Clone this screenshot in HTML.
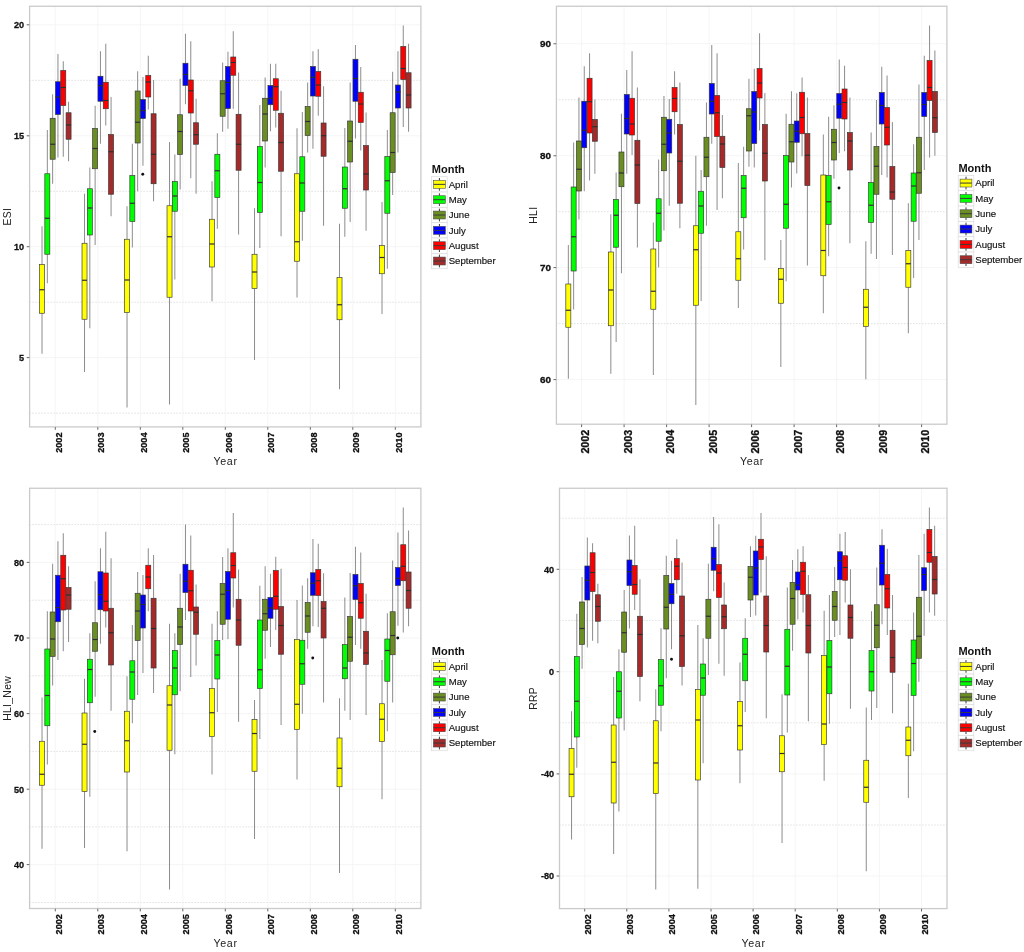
<!DOCTYPE html>
<html lang="en"><head><meta charset="utf-8"><title>Monthly boxplots by year</title>
<style>html,body{margin:0;padding:0;background:#fff}body{width:1024px;height:952px;overflow:hidden}svg{display:block}</style></head>
<body>
<svg width="1024" height="952" viewBox="0 0 1024 952" font-family='"Liberation Sans", Arial, Helvetica, sans-serif'>
<rect width="1024" height="952" fill="#fff"/>
<g>
<line x1="29.6" x2="420.9" y1="24.8" y2="24.8" stroke="#f3f3f3" stroke-width="0.8"/>
<line x1="29.6" x2="420.9" y1="135.8" y2="135.8" stroke="#f3f3f3" stroke-width="0.8"/>
<line x1="29.6" x2="420.9" y1="246.7" y2="246.7" stroke="#f3f3f3" stroke-width="0.8"/>
<line x1="29.6" x2="420.9" y1="357.6" y2="357.6" stroke="#f3f3f3" stroke-width="0.8"/>
<line x1="29.6" x2="420.9" y1="80.3" y2="80.3" stroke="#c6c6c6" stroke-width="0.9" stroke-dasharray="0.9 2.1"/>
<line x1="29.6" x2="420.9" y1="191.3" y2="191.3" stroke="#c6c6c6" stroke-width="0.9" stroke-dasharray="0.9 2.1"/>
<line x1="29.6" x2="420.9" y1="302.2" y2="302.2" stroke="#c6c6c6" stroke-width="0.9" stroke-dasharray="0.9 2.1"/>
<line x1="29.6" x2="420.9" y1="413.2" y2="413.2" stroke="#c6c6c6" stroke-width="0.9" stroke-dasharray="0.9 2.1"/>
<line x1="55.3" x2="55.3" y1="6.25" y2="426.9" stroke="#f3f3f3" stroke-width="0.8"/>
<line x1="97.8" x2="97.8" y1="6.25" y2="426.9" stroke="#f3f3f3" stroke-width="0.8"/>
<line x1="140.3" x2="140.3" y1="6.25" y2="426.9" stroke="#f3f3f3" stroke-width="0.8"/>
<line x1="182.8" x2="182.8" y1="6.25" y2="426.9" stroke="#f3f3f3" stroke-width="0.8"/>
<line x1="225.3" x2="225.3" y1="6.25" y2="426.9" stroke="#f3f3f3" stroke-width="0.8"/>
<line x1="267.8" x2="267.8" y1="6.25" y2="426.9" stroke="#f3f3f3" stroke-width="0.8"/>
<line x1="310.3" x2="310.3" y1="6.25" y2="426.9" stroke="#f3f3f3" stroke-width="0.8"/>
<line x1="352.8" x2="352.8" y1="6.25" y2="426.9" stroke="#f3f3f3" stroke-width="0.8"/>
<line x1="395.3" x2="395.3" y1="6.25" y2="426.9" stroke="#f3f3f3" stroke-width="0.8"/>
<path d="M42.02 226.25V264.5M42.02 313.25V353.75" stroke="#6e6e6e" stroke-width="0.8" fill="none"/>
<rect x="39.52" y="264.5" width="5.01" height="48.75" fill="#FFFF00" stroke="#333" stroke-width="0.65"/>
<line x1="39.52" x2="44.53" y1="289.75" y2="289.75" stroke="#2e2e2e" stroke-width="1.2"/>
<path d="M47.33 130V173.75M47.33 254.25V283.25" stroke="#6e6e6e" stroke-width="0.8" fill="none"/>
<rect x="44.83" y="173.75" width="5.01" height="80.5" fill="#00FF00" stroke="#333" stroke-width="0.65"/>
<line x1="44.83" x2="49.84" y1="218.25" y2="218.25" stroke="#2e2e2e" stroke-width="1.2"/>
<path d="M52.64 94.25V118.25M52.64 159.25V183.75" stroke="#6e6e6e" stroke-width="0.8" fill="none"/>
<rect x="50.14" y="118.25" width="5.01" height="41" fill="#6B8E23" stroke="#333" stroke-width="0.65"/>
<line x1="50.14" x2="55.15" y1="144.25" y2="144.25" stroke="#2e2e2e" stroke-width="1.2"/>
<path d="M57.95 54V81.75M57.95 114.5V157.5" stroke="#6e6e6e" stroke-width="0.8" fill="none"/>
<rect x="55.45" y="81.75" width="5.01" height="32.75" fill="#0000FF" stroke="#333" stroke-width="0.65"/>
<line x1="55.45" x2="60.46" y1="97" y2="97" stroke="#2e2e2e" stroke-width="1.2"/>
<path d="M63.27 61.25V70.5M63.27 105.5V156.75" stroke="#6e6e6e" stroke-width="0.8" fill="none"/>
<rect x="60.76" y="70.5" width="5.01" height="35" fill="#FF0000" stroke="#333" stroke-width="0.65"/>
<line x1="60.76" x2="65.77" y1="87.5" y2="87.5" stroke="#2e2e2e" stroke-width="1.2"/>
<path d="M68.57 101.75V112.75M68.57 139.25V161.25" stroke="#6e6e6e" stroke-width="0.8" fill="none"/>
<rect x="66.07" y="112.75" width="5.01" height="26.5" fill="#A52A2A" stroke="#333" stroke-width="0.65"/>
<line x1="66.07" x2="71.08" y1="125" y2="125" stroke="#2e2e2e" stroke-width="1.2"/>
<path d="M84.53 193.75V243.25M84.53 319.25V372" stroke="#6e6e6e" stroke-width="0.8" fill="none"/>
<rect x="82.02" y="243.25" width="5.01" height="76" fill="#FFFF00" stroke="#333" stroke-width="0.65"/>
<line x1="82.02" x2="87.03" y1="280.25" y2="280.25" stroke="#2e2e2e" stroke-width="1.2"/>
<path d="M89.83 167.5V188.75M89.83 235V328.25" stroke="#6e6e6e" stroke-width="0.8" fill="none"/>
<rect x="87.33" y="188.75" width="5.01" height="46.25" fill="#00FF00" stroke="#333" stroke-width="0.65"/>
<line x1="87.33" x2="92.34" y1="208" y2="208" stroke="#2e2e2e" stroke-width="1.2"/>
<path d="M95.14 105.75V128.5M95.14 168.75V245" stroke="#6e6e6e" stroke-width="0.8" fill="none"/>
<rect x="92.64" y="128.5" width="5.01" height="40.25" fill="#6B8E23" stroke="#333" stroke-width="0.65"/>
<line x1="92.64" x2="97.65" y1="148.5" y2="148.5" stroke="#2e2e2e" stroke-width="1.2"/>
<path d="M100.45 51.25V76.25M100.45 101.25V143.75" stroke="#6e6e6e" stroke-width="0.8" fill="none"/>
<rect x="97.95" y="76.25" width="5.01" height="25" fill="#0000FF" stroke="#333" stroke-width="0.65"/>
<line x1="97.95" x2="102.96" y1="85.75" y2="85.75" stroke="#2e2e2e" stroke-width="1.2"/>
<path d="M105.77 43.75V82.25M105.77 108.75V125.5" stroke="#6e6e6e" stroke-width="0.8" fill="none"/>
<rect x="103.26" y="82.25" width="5.01" height="26.5" fill="#FF0000" stroke="#333" stroke-width="0.65"/>
<line x1="103.26" x2="108.27" y1="100.5" y2="100.5" stroke="#2e2e2e" stroke-width="1.2"/>
<path d="M111.07 97V134.5M111.07 194.25V216.25" stroke="#6e6e6e" stroke-width="0.8" fill="none"/>
<rect x="108.57" y="134.5" width="5.01" height="59.75" fill="#A52A2A" stroke="#333" stroke-width="0.65"/>
<line x1="108.57" x2="113.58" y1="151.75" y2="151.75" stroke="#2e2e2e" stroke-width="1.2"/>
<path d="M127.03 206.25V239.25M127.03 312.5V407.5" stroke="#6e6e6e" stroke-width="0.8" fill="none"/>
<rect x="124.52" y="239.25" width="5.01" height="73.25" fill="#FFFF00" stroke="#333" stroke-width="0.65"/>
<line x1="124.52" x2="129.53" y1="280" y2="280" stroke="#2e2e2e" stroke-width="1.2"/>
<path d="M132.34 143.75V175.5M132.34 221.5V247.5" stroke="#6e6e6e" stroke-width="0.8" fill="none"/>
<rect x="129.83" y="175.5" width="5.01" height="46" fill="#00FF00" stroke="#333" stroke-width="0.65"/>
<line x1="129.83" x2="134.84" y1="203.25" y2="203.25" stroke="#2e2e2e" stroke-width="1.2"/>
<path d="M137.65 71.25V91M137.65 143V191.25" stroke="#6e6e6e" stroke-width="0.8" fill="none"/>
<rect x="135.14" y="91" width="5.01" height="52" fill="#6B8E23" stroke="#333" stroke-width="0.65"/>
<line x1="135.14" x2="140.15" y1="122.25" y2="122.25" stroke="#2e2e2e" stroke-width="1.2"/>
<path d="M142.96 77V99.5M142.96 118.5V165.75" stroke="#6e6e6e" stroke-width="0.8" fill="none"/>
<rect x="140.45" y="99.5" width="5.01" height="19" fill="#0000FF" stroke="#333" stroke-width="0.65"/>
<line x1="140.45" x2="145.46" y1="110.5" y2="110.5" stroke="#2e2e2e" stroke-width="1.2"/>
<path d="M148.27 55.75V75.5M148.27 97V109.5" stroke="#6e6e6e" stroke-width="0.8" fill="none"/>
<rect x="145.76" y="75.5" width="5.01" height="21.5" fill="#FF0000" stroke="#333" stroke-width="0.65"/>
<line x1="145.76" x2="150.77" y1="82" y2="82" stroke="#2e2e2e" stroke-width="1.2"/>
<path d="M153.58 80V113.75M153.58 183.75V201.25" stroke="#6e6e6e" stroke-width="0.8" fill="none"/>
<rect x="151.07" y="113.75" width="5.01" height="70" fill="#A52A2A" stroke="#333" stroke-width="0.65"/>
<line x1="151.07" x2="156.08" y1="154.25" y2="154.25" stroke="#2e2e2e" stroke-width="1.2"/>
<path d="M169.53 142V205.75M169.53 297.25V404.5" stroke="#6e6e6e" stroke-width="0.8" fill="none"/>
<rect x="167.02" y="205.75" width="5.01" height="91.5" fill="#FFFF00" stroke="#333" stroke-width="0.65"/>
<line x1="167.02" x2="172.03" y1="236.75" y2="236.75" stroke="#2e2e2e" stroke-width="1.2"/>
<path d="M174.84 154.5V181.5M174.84 211.25V279.5" stroke="#6e6e6e" stroke-width="0.8" fill="none"/>
<rect x="172.33" y="181.5" width="5.01" height="29.75" fill="#00FF00" stroke="#333" stroke-width="0.65"/>
<line x1="172.33" x2="177.34" y1="196" y2="196" stroke="#2e2e2e" stroke-width="1.2"/>
<path d="M180.15 78.75V114.75M180.15 154.5V189.5" stroke="#6e6e6e" stroke-width="0.8" fill="none"/>
<rect x="177.64" y="114.75" width="5.01" height="39.75" fill="#6B8E23" stroke="#333" stroke-width="0.65"/>
<line x1="177.64" x2="182.65" y1="131.5" y2="131.5" stroke="#2e2e2e" stroke-width="1.2"/>
<path d="M185.46 33.75V63.25M185.46 85.5V104.25" stroke="#6e6e6e" stroke-width="0.8" fill="none"/>
<rect x="182.95" y="63.25" width="5.01" height="22.25" fill="#0000FF" stroke="#333" stroke-width="0.65"/>
<line x1="182.95" x2="187.96" y1="74.5" y2="74.5" stroke="#2e2e2e" stroke-width="1.2"/>
<path d="M190.77 41.25V80M190.77 113V178.25" stroke="#6e6e6e" stroke-width="0.8" fill="none"/>
<rect x="188.26" y="80" width="5.01" height="33" fill="#FF0000" stroke="#333" stroke-width="0.65"/>
<line x1="188.26" x2="193.27" y1="90.75" y2="90.75" stroke="#2e2e2e" stroke-width="1.2"/>
<path d="M196.08 98.75V122.75M196.08 144.25V193.75" stroke="#6e6e6e" stroke-width="0.8" fill="none"/>
<rect x="193.57" y="122.75" width="5.01" height="21.5" fill="#A52A2A" stroke="#333" stroke-width="0.65"/>
<line x1="193.57" x2="198.58" y1="134.75" y2="134.75" stroke="#2e2e2e" stroke-width="1.2"/>
<path d="M212.03 181.25V219.25M212.03 267V301.25" stroke="#6e6e6e" stroke-width="0.8" fill="none"/>
<rect x="209.52" y="219.25" width="5.01" height="47.75" fill="#FFFF00" stroke="#333" stroke-width="0.65"/>
<line x1="209.52" x2="214.53" y1="244" y2="244" stroke="#2e2e2e" stroke-width="1.2"/>
<path d="M217.34 133.25V154.25M217.34 197.5V228.75" stroke="#6e6e6e" stroke-width="0.8" fill="none"/>
<rect x="214.83" y="154.25" width="5.01" height="43.25" fill="#00FF00" stroke="#333" stroke-width="0.65"/>
<line x1="214.83" x2="219.84" y1="170.75" y2="170.75" stroke="#2e2e2e" stroke-width="1.2"/>
<path d="M222.65 62.5V80.75M222.65 116.25V131.75" stroke="#6e6e6e" stroke-width="0.8" fill="none"/>
<rect x="220.14" y="80.75" width="5.01" height="35.5" fill="#6B8E23" stroke="#333" stroke-width="0.65"/>
<line x1="220.14" x2="225.15" y1="93.75" y2="93.75" stroke="#2e2e2e" stroke-width="1.2"/>
<path d="M227.96 51.75V66.5M227.96 108.5V128.75" stroke="#6e6e6e" stroke-width="0.8" fill="none"/>
<rect x="225.45" y="66.5" width="5.01" height="42" fill="#0000FF" stroke="#333" stroke-width="0.65"/>
<line x1="225.45" x2="230.46" y1="82.5" y2="82.5" stroke="#2e2e2e" stroke-width="1.2"/>
<path d="M233.27 31.25V57M233.27 75.25V108.75" stroke="#6e6e6e" stroke-width="0.8" fill="none"/>
<rect x="230.76" y="57" width="5.01" height="18.25" fill="#FF0000" stroke="#333" stroke-width="0.65"/>
<line x1="230.76" x2="235.77" y1="62.5" y2="62.5" stroke="#2e2e2e" stroke-width="1.2"/>
<path d="M238.58 72.5V114.25M238.58 170.25V234.5" stroke="#6e6e6e" stroke-width="0.8" fill="none"/>
<rect x="236.07" y="114.25" width="5.01" height="56" fill="#A52A2A" stroke="#333" stroke-width="0.65"/>
<line x1="236.07" x2="241.08" y1="144.25" y2="144.25" stroke="#2e2e2e" stroke-width="1.2"/>
<path d="M254.53 208.25V254.25M254.53 288.5V360" stroke="#6e6e6e" stroke-width="0.8" fill="none"/>
<rect x="252.02" y="254.25" width="5.01" height="34.25" fill="#FFFF00" stroke="#333" stroke-width="0.65"/>
<line x1="252.02" x2="257.03" y1="272" y2="272" stroke="#2e2e2e" stroke-width="1.2"/>
<path d="M259.84 105V146.5M259.84 212.5V248" stroke="#6e6e6e" stroke-width="0.8" fill="none"/>
<rect x="257.33" y="146.5" width="5.01" height="66" fill="#00FF00" stroke="#333" stroke-width="0.65"/>
<line x1="257.33" x2="262.34" y1="182.5" y2="182.5" stroke="#2e2e2e" stroke-width="1.2"/>
<path d="M265.15 77.5V98.25M265.15 141V167.5" stroke="#6e6e6e" stroke-width="0.8" fill="none"/>
<rect x="262.64" y="98.25" width="5.01" height="42.75" fill="#6B8E23" stroke="#333" stroke-width="0.65"/>
<line x1="262.64" x2="267.65" y1="114" y2="114" stroke="#2e2e2e" stroke-width="1.2"/>
<path d="M270.45 63.75V85.5M270.45 104.75V131.25" stroke="#6e6e6e" stroke-width="0.8" fill="none"/>
<rect x="267.95" y="85.5" width="5.01" height="19.25" fill="#0000FF" stroke="#333" stroke-width="0.65"/>
<line x1="267.95" x2="272.96" y1="98.25" y2="98.25" stroke="#2e2e2e" stroke-width="1.2"/>
<path d="M275.76 63.75V78.75M275.76 110.25V127.5" stroke="#6e6e6e" stroke-width="0.8" fill="none"/>
<rect x="273.26" y="78.75" width="5.01" height="31.5" fill="#FF0000" stroke="#333" stroke-width="0.65"/>
<line x1="273.26" x2="278.27" y1="86.75" y2="86.75" stroke="#2e2e2e" stroke-width="1.2"/>
<path d="M281.07 90.75V113.25M281.07 171.25V236.25" stroke="#6e6e6e" stroke-width="0.8" fill="none"/>
<rect x="278.57" y="113.25" width="5.01" height="58" fill="#A52A2A" stroke="#333" stroke-width="0.65"/>
<line x1="278.57" x2="283.58" y1="142.5" y2="142.5" stroke="#2e2e2e" stroke-width="1.2"/>
<path d="M297.03 128.25V173.75M297.03 261.25V297.5" stroke="#6e6e6e" stroke-width="0.8" fill="none"/>
<rect x="294.52" y="173.75" width="5.01" height="87.5" fill="#FFFF00" stroke="#333" stroke-width="0.65"/>
<line x1="294.52" x2="299.53" y1="241.75" y2="241.75" stroke="#2e2e2e" stroke-width="1.2"/>
<path d="M302.34 112V156.75M302.34 211.25V240.75" stroke="#6e6e6e" stroke-width="0.8" fill="none"/>
<rect x="299.83" y="156.75" width="5.01" height="54.5" fill="#00FF00" stroke="#333" stroke-width="0.65"/>
<line x1="299.83" x2="304.84" y1="183" y2="183" stroke="#2e2e2e" stroke-width="1.2"/>
<path d="M307.65 82.5V106.5M307.65 135.5V152.5" stroke="#6e6e6e" stroke-width="0.8" fill="none"/>
<rect x="305.14" y="106.5" width="5.01" height="29" fill="#6B8E23" stroke="#333" stroke-width="0.65"/>
<line x1="305.14" x2="310.15" y1="121.5" y2="121.5" stroke="#2e2e2e" stroke-width="1.2"/>
<path d="M312.95 51.25V66.5M312.95 96V148.75" stroke="#6e6e6e" stroke-width="0.8" fill="none"/>
<rect x="310.45" y="66.5" width="5.01" height="29.5" fill="#0000FF" stroke="#333" stroke-width="0.65"/>
<line x1="310.45" x2="315.46" y1="77.25" y2="77.25" stroke="#2e2e2e" stroke-width="1.2"/>
<path d="M318.26 49.25V71.5M318.26 96.25V115.75" stroke="#6e6e6e" stroke-width="0.8" fill="none"/>
<rect x="315.76" y="71.5" width="5.01" height="24.75" fill="#FF0000" stroke="#333" stroke-width="0.65"/>
<line x1="315.76" x2="320.77" y1="85" y2="85" stroke="#2e2e2e" stroke-width="1.2"/>
<path d="M323.57 86.25V123M323.57 156.25V225.75" stroke="#6e6e6e" stroke-width="0.8" fill="none"/>
<rect x="321.07" y="123" width="5.01" height="33.25" fill="#A52A2A" stroke="#333" stroke-width="0.65"/>
<line x1="321.07" x2="326.08" y1="135.75" y2="135.75" stroke="#2e2e2e" stroke-width="1.2"/>
<path d="M339.53 223.75V277.5M339.53 319.75V389.25" stroke="#6e6e6e" stroke-width="0.8" fill="none"/>
<rect x="337.02" y="277.5" width="5.01" height="42.25" fill="#FFFF00" stroke="#333" stroke-width="0.65"/>
<line x1="337.02" x2="342.03" y1="304.75" y2="304.75" stroke="#2e2e2e" stroke-width="1.2"/>
<path d="M344.84 128V167M344.84 208.25V236.75" stroke="#6e6e6e" stroke-width="0.8" fill="none"/>
<rect x="342.33" y="167" width="5.01" height="41.25" fill="#00FF00" stroke="#333" stroke-width="0.65"/>
<line x1="342.33" x2="347.34" y1="188.75" y2="188.75" stroke="#2e2e2e" stroke-width="1.2"/>
<path d="M350.15 82.5V121M350.15 162V222" stroke="#6e6e6e" stroke-width="0.8" fill="none"/>
<rect x="347.64" y="121" width="5.01" height="41" fill="#6B8E23" stroke="#333" stroke-width="0.65"/>
<line x1="347.64" x2="352.65" y1="141.25" y2="141.25" stroke="#2e2e2e" stroke-width="1.2"/>
<path d="M355.45 45V59.25M355.45 101.25V138.5" stroke="#6e6e6e" stroke-width="0.8" fill="none"/>
<rect x="352.95" y="59.25" width="5.01" height="42" fill="#0000FF" stroke="#333" stroke-width="0.65"/>
<line x1="352.95" x2="357.96" y1="78.5" y2="78.5" stroke="#2e2e2e" stroke-width="1.2"/>
<path d="M360.76 67V92.25M360.76 122.5V150.5" stroke="#6e6e6e" stroke-width="0.8" fill="none"/>
<rect x="358.26" y="92.25" width="5.01" height="30.25" fill="#FF0000" stroke="#333" stroke-width="0.65"/>
<line x1="358.26" x2="363.27" y1="104" y2="104" stroke="#2e2e2e" stroke-width="1.2"/>
<path d="M366.07 112.5V145.5M366.07 190V230.75" stroke="#6e6e6e" stroke-width="0.8" fill="none"/>
<rect x="363.57" y="145.5" width="5.01" height="44.5" fill="#A52A2A" stroke="#333" stroke-width="0.65"/>
<line x1="363.57" x2="368.58" y1="174" y2="174" stroke="#2e2e2e" stroke-width="1.2"/>
<path d="M382.03 202V245.5M382.03 273.75V314" stroke="#6e6e6e" stroke-width="0.8" fill="none"/>
<rect x="379.52" y="245.5" width="5.01" height="28.25" fill="#FFFF00" stroke="#333" stroke-width="0.65"/>
<line x1="379.52" x2="384.53" y1="257.5" y2="257.5" stroke="#2e2e2e" stroke-width="1.2"/>
<path d="M387.34 130V156.5M387.34 213.25V268.75" stroke="#6e6e6e" stroke-width="0.8" fill="none"/>
<rect x="384.83" y="156.5" width="5.01" height="56.75" fill="#00FF00" stroke="#333" stroke-width="0.65"/>
<line x1="384.83" x2="389.84" y1="180.75" y2="180.75" stroke="#2e2e2e" stroke-width="1.2"/>
<path d="M392.65 71.75V112.75M392.65 172.5V195" stroke="#6e6e6e" stroke-width="0.8" fill="none"/>
<rect x="390.14" y="112.75" width="5.01" height="59.75" fill="#6B8E23" stroke="#333" stroke-width="0.65"/>
<line x1="390.14" x2="395.15" y1="152.5" y2="152.5" stroke="#2e2e2e" stroke-width="1.2"/>
<path d="M397.95 51.25V85M397.95 108V152.5" stroke="#6e6e6e" stroke-width="0.8" fill="none"/>
<rect x="395.45" y="85" width="5.01" height="23" fill="#0000FF" stroke="#333" stroke-width="0.65"/>
<line x1="395.45" x2="400.46" y1="92" y2="92" stroke="#2e2e2e" stroke-width="1.2"/>
<path d="M403.26 25.5V46.5M403.26 79.5V127" stroke="#6e6e6e" stroke-width="0.8" fill="none"/>
<rect x="400.76" y="46.5" width="5.01" height="33" fill="#FF0000" stroke="#333" stroke-width="0.65"/>
<line x1="400.76" x2="405.77" y1="68.5" y2="68.5" stroke="#2e2e2e" stroke-width="1.2"/>
<path d="M408.57 43.75V72.75M408.57 108V131.75" stroke="#6e6e6e" stroke-width="0.8" fill="none"/>
<rect x="406.07" y="72.75" width="5.01" height="35.25" fill="#A52A2A" stroke="#333" stroke-width="0.65"/>
<line x1="406.07" x2="411.08" y1="95" y2="95" stroke="#2e2e2e" stroke-width="1.2"/>
<circle cx="142.75" cy="174.25" r="1.45" fill="#111"/>
<rect x="29.6" y="6.25" width="391.3" height="420.65" fill="none" stroke="#cacaca" stroke-width="1.3"/>
<line x1="26.7" x2="29.3" y1="24.8" y2="24.8" stroke="#555" stroke-width="0.9"/>
<text transform="translate(24.2 28.26) scale(0.95 1)" font-size="9.6" font-weight="bold" text-anchor="end" fill="#111" stroke="#111" stroke-width="0.3">20</text>
<line x1="26.7" x2="29.3" y1="135.8" y2="135.8" stroke="#555" stroke-width="0.9"/>
<text transform="translate(24.2 139.26) scale(0.95 1)" font-size="9.6" font-weight="bold" text-anchor="end" fill="#111" stroke="#111" stroke-width="0.3">15</text>
<line x1="26.7" x2="29.3" y1="246.7" y2="246.7" stroke="#555" stroke-width="0.9"/>
<text transform="translate(24.2 250.16) scale(0.95 1)" font-size="9.6" font-weight="bold" text-anchor="end" fill="#111" stroke="#111" stroke-width="0.3">10</text>
<line x1="26.7" x2="29.3" y1="357.6" y2="357.6" stroke="#555" stroke-width="0.9"/>
<text transform="translate(24.2 361.06) scale(0.95 1)" font-size="9.6" font-weight="bold" text-anchor="end" fill="#111" stroke="#111" stroke-width="0.3">5</text>
<line x1="55.3" x2="55.3" y1="427.2" y2="429.8" stroke="#555" stroke-width="0.9"/>
<text transform="translate(61.5 432.5) rotate(-90) scale(0.95 1)" font-size="9.6" font-weight="bold" text-anchor="end" fill="#111" stroke="#111" stroke-width="0.3">2002</text>
<line x1="97.8" x2="97.8" y1="427.2" y2="429.8" stroke="#555" stroke-width="0.9"/>
<text transform="translate(104 432.5) rotate(-90) scale(0.95 1)" font-size="9.6" font-weight="bold" text-anchor="end" fill="#111" stroke="#111" stroke-width="0.3">2003</text>
<line x1="140.3" x2="140.3" y1="427.2" y2="429.8" stroke="#555" stroke-width="0.9"/>
<text transform="translate(146.5 432.5) rotate(-90) scale(0.95 1)" font-size="9.6" font-weight="bold" text-anchor="end" fill="#111" stroke="#111" stroke-width="0.3">2004</text>
<line x1="182.8" x2="182.8" y1="427.2" y2="429.8" stroke="#555" stroke-width="0.9"/>
<text transform="translate(189 432.5) rotate(-90) scale(0.95 1)" font-size="9.6" font-weight="bold" text-anchor="end" fill="#111" stroke="#111" stroke-width="0.3">2005</text>
<line x1="225.3" x2="225.3" y1="427.2" y2="429.8" stroke="#555" stroke-width="0.9"/>
<text transform="translate(231.5 432.5) rotate(-90) scale(0.95 1)" font-size="9.6" font-weight="bold" text-anchor="end" fill="#111" stroke="#111" stroke-width="0.3">2006</text>
<line x1="267.8" x2="267.8" y1="427.2" y2="429.8" stroke="#555" stroke-width="0.9"/>
<text transform="translate(274 432.5) rotate(-90) scale(0.95 1)" font-size="9.6" font-weight="bold" text-anchor="end" fill="#111" stroke="#111" stroke-width="0.3">2007</text>
<line x1="310.3" x2="310.3" y1="427.2" y2="429.8" stroke="#555" stroke-width="0.9"/>
<text transform="translate(316.5 432.5) rotate(-90) scale(0.95 1)" font-size="9.6" font-weight="bold" text-anchor="end" fill="#111" stroke="#111" stroke-width="0.3">2008</text>
<line x1="352.8" x2="352.8" y1="427.2" y2="429.8" stroke="#555" stroke-width="0.9"/>
<text transform="translate(359 432.5) rotate(-90) scale(0.95 1)" font-size="9.6" font-weight="bold" text-anchor="end" fill="#111" stroke="#111" stroke-width="0.3">2009</text>
<line x1="395.3" x2="395.3" y1="427.2" y2="429.8" stroke="#555" stroke-width="0.9"/>
<text transform="translate(401.5 432.5) rotate(-90) scale(0.95 1)" font-size="9.6" font-weight="bold" text-anchor="end" fill="#111" stroke="#111" stroke-width="0.3">2010</text>
<text x="225.55" y="464.6" font-size="10.7" text-anchor="middle" fill="#222" letter-spacing="0.6">Year</text>
<text transform="translate(11.3 216.57) rotate(-90)" font-size="10.4" text-anchor="middle" fill="#222" letter-spacing="0.3">ESI</text>
<text x="431.8" y="172.6" font-size="11" font-weight="bold" fill="#111">Month</text>
<rect x="431.6" y="176.7" width="15.6" height="15.33" fill="#fff" stroke="#dcdcdc" stroke-width="0.7"/>
<path d="M439.4 178V180.37M439.4 188.37V190.7" stroke="#3a3a3a" stroke-width="1"/>
<rect x="433.5" y="180.42" width="11.8" height="7.9" fill="#FFFF00" stroke="#444" stroke-width="0.55"/>
<line x1="433.5" x2="445.3" y1="184.37" y2="184.37" stroke="#3a3a3a" stroke-width="1"/>
<text x="448.7" y="187.57" font-size="9.6" fill="#111" stroke="#111" stroke-width="0.15">April</text>
<rect x="431.6" y="192.03" width="15.6" height="15.33" fill="#fff" stroke="#dcdcdc" stroke-width="0.7"/>
<path d="M439.4 193.33V195.7M439.4 203.7V206.03" stroke="#3a3a3a" stroke-width="1"/>
<rect x="433.5" y="195.75" width="11.8" height="7.9" fill="#00FF00" stroke="#444" stroke-width="0.55"/>
<line x1="433.5" x2="445.3" y1="199.7" y2="199.7" stroke="#3a3a3a" stroke-width="1"/>
<text x="448.7" y="202.9" font-size="9.6" fill="#111" stroke="#111" stroke-width="0.15">May</text>
<rect x="431.6" y="207.36" width="15.6" height="15.33" fill="#fff" stroke="#dcdcdc" stroke-width="0.7"/>
<path d="M439.4 208.66V211.03M439.4 219.03V221.36" stroke="#3a3a3a" stroke-width="1"/>
<rect x="433.5" y="211.08" width="11.8" height="7.9" fill="#6B8E23" stroke="#444" stroke-width="0.55"/>
<line x1="433.5" x2="445.3" y1="215.03" y2="215.03" stroke="#3a3a3a" stroke-width="1"/>
<text x="448.7" y="218.23" font-size="9.6" fill="#111" stroke="#111" stroke-width="0.15">June</text>
<rect x="431.6" y="222.69" width="15.6" height="15.33" fill="#fff" stroke="#dcdcdc" stroke-width="0.7"/>
<path d="M439.4 223.99V226.36M439.4 234.36V236.69" stroke="#3a3a3a" stroke-width="1"/>
<rect x="433.5" y="226.41" width="11.8" height="7.9" fill="#0000FF" stroke="#444" stroke-width="0.55"/>
<line x1="433.5" x2="445.3" y1="230.36" y2="230.36" stroke="#3a3a3a" stroke-width="1"/>
<text x="448.7" y="233.56" font-size="9.6" fill="#111" stroke="#111" stroke-width="0.15">July</text>
<rect x="431.6" y="238.02" width="15.6" height="15.33" fill="#fff" stroke="#dcdcdc" stroke-width="0.7"/>
<path d="M439.4 239.32V241.69M439.4 249.69V252.02" stroke="#3a3a3a" stroke-width="1"/>
<rect x="433.5" y="241.74" width="11.8" height="7.9" fill="#FF0000" stroke="#444" stroke-width="0.55"/>
<line x1="433.5" x2="445.3" y1="245.69" y2="245.69" stroke="#3a3a3a" stroke-width="1"/>
<text x="448.7" y="248.89" font-size="9.6" fill="#111" stroke="#111" stroke-width="0.15">August</text>
<rect x="431.6" y="253.35" width="15.6" height="15.33" fill="#fff" stroke="#dcdcdc" stroke-width="0.7"/>
<path d="M439.4 254.65V257.02M439.4 265.02V267.35" stroke="#3a3a3a" stroke-width="1"/>
<rect x="433.5" y="257.07" width="11.8" height="7.9" fill="#A52A2A" stroke="#444" stroke-width="0.55"/>
<line x1="433.5" x2="445.3" y1="261.02" y2="261.02" stroke="#3a3a3a" stroke-width="1"/>
<text x="448.7" y="264.22" font-size="9.6" fill="#111" stroke="#111" stroke-width="0.15">September</text>
</g>
<g>
<line x1="556.4" x2="946.9" y1="43.75" y2="43.75" stroke="#f3f3f3" stroke-width="0.8"/>
<line x1="556.4" x2="946.9" y1="155.75" y2="155.75" stroke="#f3f3f3" stroke-width="0.8"/>
<line x1="556.4" x2="946.9" y1="267.6" y2="267.6" stroke="#f3f3f3" stroke-width="0.8"/>
<line x1="556.4" x2="946.9" y1="379.6" y2="379.6" stroke="#f3f3f3" stroke-width="0.8"/>
<line x1="556.4" x2="946.9" y1="99.75" y2="99.75" stroke="#c6c6c6" stroke-width="0.9" stroke-dasharray="0.9 2.1"/>
<line x1="556.4" x2="946.9" y1="211.7" y2="211.7" stroke="#c6c6c6" stroke-width="0.9" stroke-dasharray="0.9 2.1"/>
<line x1="556.4" x2="946.9" y1="323.6" y2="323.6" stroke="#c6c6c6" stroke-width="0.9" stroke-dasharray="0.9 2.1"/>
<line x1="581.6" x2="581.6" y1="6.25" y2="424.2" stroke="#f3f3f3" stroke-width="0.8"/>
<line x1="624.1" x2="624.1" y1="6.25" y2="424.2" stroke="#f3f3f3" stroke-width="0.8"/>
<line x1="666.6" x2="666.6" y1="6.25" y2="424.2" stroke="#f3f3f3" stroke-width="0.8"/>
<line x1="709.1" x2="709.1" y1="6.25" y2="424.2" stroke="#f3f3f3" stroke-width="0.8"/>
<line x1="751.6" x2="751.6" y1="6.25" y2="424.2" stroke="#f3f3f3" stroke-width="0.8"/>
<line x1="794.1" x2="794.1" y1="6.25" y2="424.2" stroke="#f3f3f3" stroke-width="0.8"/>
<line x1="836.6" x2="836.6" y1="6.25" y2="424.2" stroke="#f3f3f3" stroke-width="0.8"/>
<line x1="879.1" x2="879.1" y1="6.25" y2="424.2" stroke="#f3f3f3" stroke-width="0.8"/>
<line x1="921.6" x2="921.6" y1="6.25" y2="424.2" stroke="#f3f3f3" stroke-width="0.8"/>
<path d="M568.33 245V284M568.33 327.25V378.75" stroke="#6e6e6e" stroke-width="0.8" fill="none"/>
<rect x="565.82" y="284" width="5.01" height="43.25" fill="#FFFF00" stroke="#333" stroke-width="0.65"/>
<line x1="565.82" x2="570.83" y1="310.25" y2="310.25" stroke="#2e2e2e" stroke-width="1.2"/>
<path d="M573.63 142.5V187M573.63 271V309.5" stroke="#6e6e6e" stroke-width="0.8" fill="none"/>
<rect x="571.13" y="187" width="5.01" height="84" fill="#00FF00" stroke="#333" stroke-width="0.65"/>
<line x1="571.13" x2="576.14" y1="236.75" y2="236.75" stroke="#2e2e2e" stroke-width="1.2"/>
<path d="M578.95 97.5V141M578.95 191V219.5" stroke="#6e6e6e" stroke-width="0.8" fill="none"/>
<rect x="576.44" y="141" width="5.01" height="50" fill="#6B8E23" stroke="#333" stroke-width="0.65"/>
<line x1="576.44" x2="581.45" y1="169.25" y2="169.25" stroke="#2e2e2e" stroke-width="1.2"/>
<path d="M584.25 66.25V101.25M584.25 147.75V191.25" stroke="#6e6e6e" stroke-width="0.8" fill="none"/>
<rect x="581.75" y="101.25" width="5.01" height="46.5" fill="#0000FF" stroke="#333" stroke-width="0.65"/>
<line x1="581.75" x2="586.76" y1="130.25" y2="130.25" stroke="#2e2e2e" stroke-width="1.2"/>
<path d="M589.57 53.25V78.25M589.57 133V180.5" stroke="#6e6e6e" stroke-width="0.8" fill="none"/>
<rect x="587.06" y="78.25" width="5.01" height="54.75" fill="#FF0000" stroke="#333" stroke-width="0.65"/>
<line x1="587.06" x2="592.07" y1="101.75" y2="101.75" stroke="#2e2e2e" stroke-width="1.2"/>
<path d="M594.88 99.5V119.5M594.88 141.25V173.75" stroke="#6e6e6e" stroke-width="0.8" fill="none"/>
<rect x="592.37" y="119.5" width="5.01" height="21.75" fill="#A52A2A" stroke="#333" stroke-width="0.65"/>
<line x1="592.37" x2="597.38" y1="126.75" y2="126.75" stroke="#2e2e2e" stroke-width="1.2"/>
<path d="M610.83 214.25V252M610.83 325.75V373.75" stroke="#6e6e6e" stroke-width="0.8" fill="none"/>
<rect x="608.32" y="252" width="5.01" height="73.75" fill="#FFFF00" stroke="#333" stroke-width="0.65"/>
<line x1="608.32" x2="613.33" y1="290" y2="290" stroke="#2e2e2e" stroke-width="1.2"/>
<path d="M616.13 172.5V199.5M616.13 247.25V342" stroke="#6e6e6e" stroke-width="0.8" fill="none"/>
<rect x="613.63" y="199.5" width="5.01" height="47.75" fill="#00FF00" stroke="#333" stroke-width="0.65"/>
<line x1="613.63" x2="618.64" y1="215.25" y2="215.25" stroke="#2e2e2e" stroke-width="1.2"/>
<path d="M621.45 113.75V152M621.45 186.75V273.25" stroke="#6e6e6e" stroke-width="0.8" fill="none"/>
<rect x="618.94" y="152" width="5.01" height="34.75" fill="#6B8E23" stroke="#333" stroke-width="0.65"/>
<line x1="618.94" x2="623.95" y1="173" y2="173" stroke="#2e2e2e" stroke-width="1.2"/>
<path d="M626.75 70V94.5M626.75 134V173.75" stroke="#6e6e6e" stroke-width="0.8" fill="none"/>
<rect x="624.25" y="94.5" width="5.01" height="39.5" fill="#0000FF" stroke="#333" stroke-width="0.65"/>
<line x1="624.25" x2="629.26" y1="118.5" y2="118.5" stroke="#2e2e2e" stroke-width="1.2"/>
<path d="M632.07 51.25V98.25M632.07 135V155" stroke="#6e6e6e" stroke-width="0.8" fill="none"/>
<rect x="629.56" y="98.25" width="5.01" height="36.75" fill="#FF0000" stroke="#333" stroke-width="0.65"/>
<line x1="629.56" x2="634.57" y1="124" y2="124" stroke="#2e2e2e" stroke-width="1.2"/>
<path d="M637.38 87.5V140.25M637.38 203.5V247.5" stroke="#6e6e6e" stroke-width="0.8" fill="none"/>
<rect x="634.87" y="140.25" width="5.01" height="63.25" fill="#A52A2A" stroke="#333" stroke-width="0.65"/>
<line x1="634.87" x2="639.88" y1="165" y2="165" stroke="#2e2e2e" stroke-width="1.2"/>
<path d="M653.33 222.5V249M653.33 309.25V375" stroke="#6e6e6e" stroke-width="0.8" fill="none"/>
<rect x="650.82" y="249" width="5.01" height="60.25" fill="#FFFF00" stroke="#333" stroke-width="0.65"/>
<line x1="650.82" x2="655.83" y1="291.25" y2="291.25" stroke="#2e2e2e" stroke-width="1.2"/>
<path d="M658.63 159.5V198.75M658.63 241.25V267.5" stroke="#6e6e6e" stroke-width="0.8" fill="none"/>
<rect x="656.13" y="198.75" width="5.01" height="42.5" fill="#00FF00" stroke="#333" stroke-width="0.65"/>
<line x1="656.13" x2="661.14" y1="213.25" y2="213.25" stroke="#2e2e2e" stroke-width="1.2"/>
<path d="M663.95 96V117.25M663.95 170.75V230.5" stroke="#6e6e6e" stroke-width="0.8" fill="none"/>
<rect x="661.44" y="117.25" width="5.01" height="53.5" fill="#6B8E23" stroke="#333" stroke-width="0.65"/>
<line x1="661.44" x2="666.45" y1="144.25" y2="144.25" stroke="#2e2e2e" stroke-width="1.2"/>
<path d="M669.25 99V119.25M669.25 153V205.75" stroke="#6e6e6e" stroke-width="0.8" fill="none"/>
<rect x="666.75" y="119.25" width="5.01" height="33.75" fill="#0000FF" stroke="#333" stroke-width="0.65"/>
<line x1="666.75" x2="671.76" y1="133" y2="133" stroke="#2e2e2e" stroke-width="1.2"/>
<path d="M674.57 71.25V87.5M674.57 111.75V134.5" stroke="#6e6e6e" stroke-width="0.8" fill="none"/>
<rect x="672.06" y="87.5" width="5.01" height="24.25" fill="#FF0000" stroke="#333" stroke-width="0.65"/>
<line x1="672.06" x2="677.07" y1="98.5" y2="98.5" stroke="#2e2e2e" stroke-width="1.2"/>
<path d="M679.88 82.5V124.5M679.88 203.25V228.25" stroke="#6e6e6e" stroke-width="0.8" fill="none"/>
<rect x="677.37" y="124.5" width="5.01" height="78.75" fill="#A52A2A" stroke="#333" stroke-width="0.65"/>
<line x1="677.37" x2="682.38" y1="161.25" y2="161.25" stroke="#2e2e2e" stroke-width="1.2"/>
<path d="M695.83 155.75V225.75M695.83 305.25V405" stroke="#6e6e6e" stroke-width="0.8" fill="none"/>
<rect x="693.32" y="225.75" width="5.01" height="79.5" fill="#FFFF00" stroke="#333" stroke-width="0.65"/>
<line x1="693.32" x2="698.33" y1="249.75" y2="249.75" stroke="#2e2e2e" stroke-width="1.2"/>
<path d="M701.13 170V191.25M701.13 233.25V301" stroke="#6e6e6e" stroke-width="0.8" fill="none"/>
<rect x="698.63" y="191.25" width="5.01" height="42" fill="#00FF00" stroke="#333" stroke-width="0.65"/>
<line x1="698.63" x2="703.64" y1="206" y2="206" stroke="#2e2e2e" stroke-width="1.2"/>
<path d="M706.45 102.5V137.25M706.45 176.75V225.75" stroke="#6e6e6e" stroke-width="0.8" fill="none"/>
<rect x="703.94" y="137.25" width="5.01" height="39.5" fill="#6B8E23" stroke="#333" stroke-width="0.65"/>
<line x1="703.94" x2="708.95" y1="157.25" y2="157.25" stroke="#2e2e2e" stroke-width="1.2"/>
<path d="M711.75 45V83.5M711.75 114V143.75" stroke="#6e6e6e" stroke-width="0.8" fill="none"/>
<rect x="709.25" y="83.5" width="5.01" height="30.5" fill="#0000FF" stroke="#333" stroke-width="0.65"/>
<line x1="709.25" x2="714.26" y1="101.25" y2="101.25" stroke="#2e2e2e" stroke-width="1.2"/>
<path d="M717.07 53.25V95.5M717.07 136.5V210" stroke="#6e6e6e" stroke-width="0.8" fill="none"/>
<rect x="714.56" y="95.5" width="5.01" height="41" fill="#FF0000" stroke="#333" stroke-width="0.65"/>
<line x1="714.56" x2="719.57" y1="112.75" y2="112.75" stroke="#2e2e2e" stroke-width="1.2"/>
<path d="M722.38 115V136.25M722.38 167.5V198.25" stroke="#6e6e6e" stroke-width="0.8" fill="none"/>
<rect x="719.87" y="136.25" width="5.01" height="31.25" fill="#A52A2A" stroke="#333" stroke-width="0.65"/>
<line x1="719.87" x2="724.88" y1="144" y2="144" stroke="#2e2e2e" stroke-width="1.2"/>
<path d="M738.33 163V231.75M738.33 280.25V308" stroke="#6e6e6e" stroke-width="0.8" fill="none"/>
<rect x="735.82" y="231.75" width="5.01" height="48.5" fill="#FFFF00" stroke="#333" stroke-width="0.65"/>
<line x1="735.82" x2="740.83" y1="258.75" y2="258.75" stroke="#2e2e2e" stroke-width="1.2"/>
<path d="M743.63 146.75V175.5M743.63 217.75V249.5" stroke="#6e6e6e" stroke-width="0.8" fill="none"/>
<rect x="741.13" y="175.5" width="5.01" height="42.25" fill="#00FF00" stroke="#333" stroke-width="0.65"/>
<line x1="741.13" x2="746.14" y1="188.25" y2="188.25" stroke="#2e2e2e" stroke-width="1.2"/>
<path d="M748.95 78.75V108.75M748.95 151V166.75" stroke="#6e6e6e" stroke-width="0.8" fill="none"/>
<rect x="746.44" y="108.75" width="5.01" height="42.25" fill="#6B8E23" stroke="#333" stroke-width="0.65"/>
<line x1="746.44" x2="751.45" y1="115.75" y2="115.75" stroke="#2e2e2e" stroke-width="1.2"/>
<path d="M754.25 68.75V91.5M754.25 143.5V167.5" stroke="#6e6e6e" stroke-width="0.8" fill="none"/>
<rect x="751.75" y="91.5" width="5.01" height="52" fill="#0000FF" stroke="#333" stroke-width="0.65"/>
<line x1="751.75" x2="756.76" y1="112" y2="112" stroke="#2e2e2e" stroke-width="1.2"/>
<path d="M759.57 33.25V68.5M759.57 98V130.5" stroke="#6e6e6e" stroke-width="0.8" fill="none"/>
<rect x="757.06" y="68.5" width="5.01" height="29.5" fill="#FF0000" stroke="#333" stroke-width="0.65"/>
<line x1="757.06" x2="762.07" y1="83" y2="83" stroke="#2e2e2e" stroke-width="1.2"/>
<path d="M764.88 93V124.5M764.88 181V260.25" stroke="#6e6e6e" stroke-width="0.8" fill="none"/>
<rect x="762.37" y="124.5" width="5.01" height="56.5" fill="#A52A2A" stroke="#333" stroke-width="0.65"/>
<line x1="762.37" x2="767.38" y1="153.25" y2="153.25" stroke="#2e2e2e" stroke-width="1.2"/>
<path d="M780.83 240V268.5M780.83 303.25V367" stroke="#6e6e6e" stroke-width="0.8" fill="none"/>
<rect x="778.32" y="268.5" width="5.01" height="34.75" fill="#FFFF00" stroke="#333" stroke-width="0.65"/>
<line x1="778.32" x2="783.33" y1="279.25" y2="279.25" stroke="#2e2e2e" stroke-width="1.2"/>
<path d="M786.13 113.75V155.5M786.13 228.25V281.25" stroke="#6e6e6e" stroke-width="0.8" fill="none"/>
<rect x="783.63" y="155.5" width="5.01" height="72.75" fill="#00FF00" stroke="#333" stroke-width="0.65"/>
<line x1="783.63" x2="788.64" y1="204.25" y2="204.25" stroke="#2e2e2e" stroke-width="1.2"/>
<path d="M791.45 91.25V124.25M791.45 162V187.5" stroke="#6e6e6e" stroke-width="0.8" fill="none"/>
<rect x="788.94" y="124.25" width="5.01" height="37.75" fill="#6B8E23" stroke="#333" stroke-width="0.65"/>
<line x1="788.94" x2="793.95" y1="141.75" y2="141.75" stroke="#2e2e2e" stroke-width="1.2"/>
<path d="M796.75 93.25V121M796.75 142.25V173.5" stroke="#6e6e6e" stroke-width="0.8" fill="none"/>
<rect x="794.25" y="121" width="5.01" height="21.25" fill="#0000FF" stroke="#333" stroke-width="0.65"/>
<line x1="794.25" x2="799.26" y1="131.25" y2="131.25" stroke="#2e2e2e" stroke-width="1.2"/>
<path d="M802.07 77.5V92.25M802.07 133.75V156.25" stroke="#6e6e6e" stroke-width="0.8" fill="none"/>
<rect x="799.56" y="92.25" width="5.01" height="41.5" fill="#FF0000" stroke="#333" stroke-width="0.65"/>
<line x1="799.56" x2="804.57" y1="117.5" y2="117.5" stroke="#2e2e2e" stroke-width="1.2"/>
<path d="M807.38 97.5V133.5M807.38 185.5V265.5" stroke="#6e6e6e" stroke-width="0.8" fill="none"/>
<rect x="804.87" y="133.5" width="5.01" height="52" fill="#A52A2A" stroke="#333" stroke-width="0.65"/>
<line x1="804.87" x2="809.88" y1="155.25" y2="155.25" stroke="#2e2e2e" stroke-width="1.2"/>
<path d="M823.33 134.5V175M823.33 275.75V313.25" stroke="#6e6e6e" stroke-width="0.8" fill="none"/>
<rect x="820.82" y="175" width="5.01" height="100.75" fill="#FFFF00" stroke="#333" stroke-width="0.65"/>
<line x1="820.82" x2="825.83" y1="250.5" y2="250.5" stroke="#2e2e2e" stroke-width="1.2"/>
<path d="M828.63 116.75V175.5M828.63 224.5V256.25" stroke="#6e6e6e" stroke-width="0.8" fill="none"/>
<rect x="826.13" y="175.5" width="5.01" height="49" fill="#00FF00" stroke="#333" stroke-width="0.65"/>
<line x1="826.13" x2="831.14" y1="201.75" y2="201.75" stroke="#2e2e2e" stroke-width="1.2"/>
<path d="M833.95 105.25V129.25M833.95 160V178.75" stroke="#6e6e6e" stroke-width="0.8" fill="none"/>
<rect x="831.44" y="129.25" width="5.01" height="30.75" fill="#6B8E23" stroke="#333" stroke-width="0.65"/>
<line x1="831.44" x2="836.45" y1="142.5" y2="142.5" stroke="#2e2e2e" stroke-width="1.2"/>
<path d="M839.25 59.5V93.5M839.25 118.25V153" stroke="#6e6e6e" stroke-width="0.8" fill="none"/>
<rect x="836.75" y="93.5" width="5.01" height="24.75" fill="#0000FF" stroke="#333" stroke-width="0.65"/>
<line x1="836.75" x2="841.76" y1="104.25" y2="104.25" stroke="#2e2e2e" stroke-width="1.2"/>
<path d="M844.57 65.75V89M844.57 119V151.25" stroke="#6e6e6e" stroke-width="0.8" fill="none"/>
<rect x="842.06" y="89" width="5.01" height="30" fill="#FF0000" stroke="#333" stroke-width="0.65"/>
<line x1="842.06" x2="847.07" y1="102.5" y2="102.5" stroke="#2e2e2e" stroke-width="1.2"/>
<path d="M849.88 97.5V132.5M849.88 170V243.25" stroke="#6e6e6e" stroke-width="0.8" fill="none"/>
<rect x="847.37" y="132.5" width="5.01" height="37.5" fill="#A52A2A" stroke="#333" stroke-width="0.65"/>
<line x1="847.37" x2="852.38" y1="141" y2="141" stroke="#2e2e2e" stroke-width="1.2"/>
<path d="M865.83 241.25V289.25M865.83 326.5V379.25" stroke="#6e6e6e" stroke-width="0.8" fill="none"/>
<rect x="863.32" y="289.25" width="5.01" height="37.25" fill="#FFFF00" stroke="#333" stroke-width="0.65"/>
<line x1="863.32" x2="868.33" y1="307.25" y2="307.25" stroke="#2e2e2e" stroke-width="1.2"/>
<path d="M871.13 132.5V182.5M871.13 222.5V253.75" stroke="#6e6e6e" stroke-width="0.8" fill="none"/>
<rect x="868.63" y="182.5" width="5.01" height="40" fill="#00FF00" stroke="#333" stroke-width="0.65"/>
<line x1="868.63" x2="873.64" y1="205.25" y2="205.25" stroke="#2e2e2e" stroke-width="1.2"/>
<path d="M876.45 100V146.5M876.45 194.25V259" stroke="#6e6e6e" stroke-width="0.8" fill="none"/>
<rect x="873.94" y="146.5" width="5.01" height="47.75" fill="#6B8E23" stroke="#333" stroke-width="0.65"/>
<line x1="873.94" x2="878.95" y1="166.25" y2="166.25" stroke="#2e2e2e" stroke-width="1.2"/>
<path d="M881.75 66.75V92.5M881.75 124V175" stroke="#6e6e6e" stroke-width="0.8" fill="none"/>
<rect x="879.25" y="92.5" width="5.01" height="31.5" fill="#0000FF" stroke="#333" stroke-width="0.65"/>
<line x1="879.25" x2="884.26" y1="105.5" y2="105.5" stroke="#2e2e2e" stroke-width="1.2"/>
<path d="M887.07 75.5V107.5M887.07 145V177.5" stroke="#6e6e6e" stroke-width="0.8" fill="none"/>
<rect x="884.56" y="107.5" width="5.01" height="37.5" fill="#FF0000" stroke="#333" stroke-width="0.65"/>
<line x1="884.56" x2="889.57" y1="127.25" y2="127.25" stroke="#2e2e2e" stroke-width="1.2"/>
<path d="M892.38 122V166.5M892.38 199.25V255" stroke="#6e6e6e" stroke-width="0.8" fill="none"/>
<rect x="889.87" y="166.5" width="5.01" height="32.75" fill="#A52A2A" stroke="#333" stroke-width="0.65"/>
<line x1="889.87" x2="894.88" y1="192" y2="192" stroke="#2e2e2e" stroke-width="1.2"/>
<path d="M908.33 203.25V250.5M908.33 287.25V333.25" stroke="#6e6e6e" stroke-width="0.8" fill="none"/>
<rect x="905.82" y="250.5" width="5.01" height="36.75" fill="#FFFF00" stroke="#333" stroke-width="0.65"/>
<line x1="905.82" x2="910.83" y1="263.75" y2="263.75" stroke="#2e2e2e" stroke-width="1.2"/>
<path d="M913.63 144.25V173M913.63 221.25V278" stroke="#6e6e6e" stroke-width="0.8" fill="none"/>
<rect x="911.13" y="173" width="5.01" height="48.25" fill="#00FF00" stroke="#333" stroke-width="0.65"/>
<line x1="911.13" x2="916.14" y1="186" y2="186" stroke="#2e2e2e" stroke-width="1.2"/>
<path d="M918.95 84.5V137.25M918.95 193.25V240" stroke="#6e6e6e" stroke-width="0.8" fill="none"/>
<rect x="916.44" y="137.25" width="5.01" height="56" fill="#6B8E23" stroke="#333" stroke-width="0.65"/>
<line x1="916.44" x2="921.45" y1="172.75" y2="172.75" stroke="#2e2e2e" stroke-width="1.2"/>
<path d="M924.25 55.75V92.5M924.25 116.5V170" stroke="#6e6e6e" stroke-width="0.8" fill="none"/>
<rect x="921.75" y="92.5" width="5.01" height="24" fill="#0000FF" stroke="#333" stroke-width="0.65"/>
<line x1="921.75" x2="926.76" y1="104.5" y2="104.5" stroke="#2e2e2e" stroke-width="1.2"/>
<path d="M929.57 25.5V60.5M929.57 100.5V157.5" stroke="#6e6e6e" stroke-width="0.8" fill="none"/>
<rect x="927.06" y="60.5" width="5.01" height="40" fill="#FF0000" stroke="#333" stroke-width="0.65"/>
<line x1="927.06" x2="932.07" y1="87.5" y2="87.5" stroke="#2e2e2e" stroke-width="1.2"/>
<path d="M934.88 50.5V91.5M934.88 132.5V155.75" stroke="#6e6e6e" stroke-width="0.8" fill="none"/>
<rect x="932.37" y="91.5" width="5.01" height="41" fill="#A52A2A" stroke="#333" stroke-width="0.65"/>
<line x1="932.37" x2="937.38" y1="117.75" y2="117.75" stroke="#2e2e2e" stroke-width="1.2"/>
<circle cx="839" cy="188" r="1.45" fill="#111"/>
<rect x="556.4" y="6.25" width="390.5" height="417.95" fill="none" stroke="#cacaca" stroke-width="1.3"/>
<line x1="553.5" x2="556.1" y1="43.75" y2="43.75" stroke="#555" stroke-width="0.9"/>
<text transform="translate(551 47.13) scale(1.05 1)" font-size="9.4" font-weight="bold" text-anchor="end" fill="#111" stroke="#111" stroke-width="0.3">90</text>
<line x1="553.5" x2="556.1" y1="155.75" y2="155.75" stroke="#555" stroke-width="0.9"/>
<text transform="translate(551 159.13) scale(1.05 1)" font-size="9.4" font-weight="bold" text-anchor="end" fill="#111" stroke="#111" stroke-width="0.3">80</text>
<line x1="553.5" x2="556.1" y1="267.6" y2="267.6" stroke="#555" stroke-width="0.9"/>
<text transform="translate(551 270.98) scale(1.05 1)" font-size="9.4" font-weight="bold" text-anchor="end" fill="#111" stroke="#111" stroke-width="0.3">70</text>
<line x1="553.5" x2="556.1" y1="379.6" y2="379.6" stroke="#555" stroke-width="0.9"/>
<text transform="translate(551 382.98) scale(1.05 1)" font-size="9.4" font-weight="bold" text-anchor="end" fill="#111" stroke="#111" stroke-width="0.3">60</text>
<line x1="581.6" x2="581.6" y1="424.5" y2="427.1" stroke="#555" stroke-width="0.9"/>
<text transform="translate(589.2 429.8) rotate(-90) scale(1.06 1)" font-size="10.1" font-weight="bold" text-anchor="end" fill="#111" stroke="#111" stroke-width="0.3">2002</text>
<line x1="624.1" x2="624.1" y1="424.5" y2="427.1" stroke="#555" stroke-width="0.9"/>
<text transform="translate(631.7 429.8) rotate(-90) scale(1.06 1)" font-size="10.1" font-weight="bold" text-anchor="end" fill="#111" stroke="#111" stroke-width="0.3">2003</text>
<line x1="666.6" x2="666.6" y1="424.5" y2="427.1" stroke="#555" stroke-width="0.9"/>
<text transform="translate(674.2 429.8) rotate(-90) scale(1.06 1)" font-size="10.1" font-weight="bold" text-anchor="end" fill="#111" stroke="#111" stroke-width="0.3">2004</text>
<line x1="709.1" x2="709.1" y1="424.5" y2="427.1" stroke="#555" stroke-width="0.9"/>
<text transform="translate(716.7 429.8) rotate(-90) scale(1.06 1)" font-size="10.1" font-weight="bold" text-anchor="end" fill="#111" stroke="#111" stroke-width="0.3">2005</text>
<line x1="751.6" x2="751.6" y1="424.5" y2="427.1" stroke="#555" stroke-width="0.9"/>
<text transform="translate(759.2 429.8) rotate(-90) scale(1.06 1)" font-size="10.1" font-weight="bold" text-anchor="end" fill="#111" stroke="#111" stroke-width="0.3">2006</text>
<line x1="794.1" x2="794.1" y1="424.5" y2="427.1" stroke="#555" stroke-width="0.9"/>
<text transform="translate(801.7 429.8) rotate(-90) scale(1.06 1)" font-size="10.1" font-weight="bold" text-anchor="end" fill="#111" stroke="#111" stroke-width="0.3">2007</text>
<line x1="836.6" x2="836.6" y1="424.5" y2="427.1" stroke="#555" stroke-width="0.9"/>
<text transform="translate(844.2 429.8) rotate(-90) scale(1.06 1)" font-size="10.1" font-weight="bold" text-anchor="end" fill="#111" stroke="#111" stroke-width="0.3">2008</text>
<line x1="879.1" x2="879.1" y1="424.5" y2="427.1" stroke="#555" stroke-width="0.9"/>
<text transform="translate(886.7 429.8) rotate(-90) scale(1.06 1)" font-size="10.1" font-weight="bold" text-anchor="end" fill="#111" stroke="#111" stroke-width="0.3">2009</text>
<line x1="921.6" x2="921.6" y1="424.5" y2="427.1" stroke="#555" stroke-width="0.9"/>
<text transform="translate(929.2 429.8) rotate(-90) scale(1.06 1)" font-size="10.1" font-weight="bold" text-anchor="end" fill="#111" stroke="#111" stroke-width="0.3">2010</text>
<text x="751.95" y="464.7" font-size="10.7" text-anchor="middle" fill="#222" letter-spacing="0.6">Year</text>
<text transform="translate(537.4 215.22) rotate(-90)" font-size="10.4" text-anchor="middle" fill="#222" letter-spacing="0.3">HLI</text>
<text x="958.4" y="171.75" font-size="11" font-weight="bold" fill="#111">Month</text>
<rect x="958.2" y="175.4" width="15.6" height="15.33" fill="#fff" stroke="#dcdcdc" stroke-width="0.7"/>
<path d="M966 176.7V179.07M966 187.07V189.4" stroke="#3a3a3a" stroke-width="1"/>
<rect x="960.1" y="179.12" width="11.8" height="7.9" fill="#FFFF00" stroke="#444" stroke-width="0.55"/>
<line x1="960.1" x2="971.9" y1="183.07" y2="183.07" stroke="#3a3a3a" stroke-width="1"/>
<text x="975.3" y="186.27" font-size="9.6" fill="#111" stroke="#111" stroke-width="0.15">April</text>
<rect x="958.2" y="190.73" width="15.6" height="15.33" fill="#fff" stroke="#dcdcdc" stroke-width="0.7"/>
<path d="M966 192.03V194.4M966 202.4V204.73" stroke="#3a3a3a" stroke-width="1"/>
<rect x="960.1" y="194.45" width="11.8" height="7.9" fill="#00FF00" stroke="#444" stroke-width="0.55"/>
<line x1="960.1" x2="971.9" y1="198.4" y2="198.4" stroke="#3a3a3a" stroke-width="1"/>
<text x="975.3" y="201.6" font-size="9.6" fill="#111" stroke="#111" stroke-width="0.15">May</text>
<rect x="958.2" y="206.06" width="15.6" height="15.33" fill="#fff" stroke="#dcdcdc" stroke-width="0.7"/>
<path d="M966 207.36V209.73M966 217.73V220.06" stroke="#3a3a3a" stroke-width="1"/>
<rect x="960.1" y="209.78" width="11.8" height="7.9" fill="#6B8E23" stroke="#444" stroke-width="0.55"/>
<line x1="960.1" x2="971.9" y1="213.73" y2="213.73" stroke="#3a3a3a" stroke-width="1"/>
<text x="975.3" y="216.93" font-size="9.6" fill="#111" stroke="#111" stroke-width="0.15">June</text>
<rect x="958.2" y="221.39" width="15.6" height="15.33" fill="#fff" stroke="#dcdcdc" stroke-width="0.7"/>
<path d="M966 222.69V225.06M966 233.06V235.39" stroke="#3a3a3a" stroke-width="1"/>
<rect x="960.1" y="225.11" width="11.8" height="7.9" fill="#0000FF" stroke="#444" stroke-width="0.55"/>
<line x1="960.1" x2="971.9" y1="229.06" y2="229.06" stroke="#3a3a3a" stroke-width="1"/>
<text x="975.3" y="232.26" font-size="9.6" fill="#111" stroke="#111" stroke-width="0.15">July</text>
<rect x="958.2" y="236.72" width="15.6" height="15.33" fill="#fff" stroke="#dcdcdc" stroke-width="0.7"/>
<path d="M966 238.02V240.39M966 248.39V250.72" stroke="#3a3a3a" stroke-width="1"/>
<rect x="960.1" y="240.44" width="11.8" height="7.9" fill="#FF0000" stroke="#444" stroke-width="0.55"/>
<line x1="960.1" x2="971.9" y1="244.39" y2="244.39" stroke="#3a3a3a" stroke-width="1"/>
<text x="975.3" y="247.59" font-size="9.6" fill="#111" stroke="#111" stroke-width="0.15">August</text>
<rect x="958.2" y="252.05" width="15.6" height="15.33" fill="#fff" stroke="#dcdcdc" stroke-width="0.7"/>
<path d="M966 253.35V255.72M966 263.72V266.05" stroke="#3a3a3a" stroke-width="1"/>
<rect x="960.1" y="255.77" width="11.8" height="7.9" fill="#A52A2A" stroke="#444" stroke-width="0.55"/>
<line x1="960.1" x2="971.9" y1="259.72" y2="259.72" stroke="#3a3a3a" stroke-width="1"/>
<text x="975.3" y="262.92" font-size="9.6" fill="#111" stroke="#111" stroke-width="0.15">September</text>
</g>
<g>
<line x1="29.6" x2="420.9" y1="562.4" y2="562.4" stroke="#f3f3f3" stroke-width="0.8"/>
<line x1="29.6" x2="420.9" y1="638" y2="638" stroke="#f3f3f3" stroke-width="0.8"/>
<line x1="29.6" x2="420.9" y1="713.6" y2="713.6" stroke="#f3f3f3" stroke-width="0.8"/>
<line x1="29.6" x2="420.9" y1="789.2" y2="789.2" stroke="#f3f3f3" stroke-width="0.8"/>
<line x1="29.6" x2="420.9" y1="864.6" y2="864.6" stroke="#f3f3f3" stroke-width="0.8"/>
<line x1="29.6" x2="420.9" y1="524.6" y2="524.6" stroke="#c6c6c6" stroke-width="0.9" stroke-dasharray="0.9 2.1"/>
<line x1="29.6" x2="420.9" y1="600.2" y2="600.2" stroke="#c6c6c6" stroke-width="0.9" stroke-dasharray="0.9 2.1"/>
<line x1="29.6" x2="420.9" y1="675.8" y2="675.8" stroke="#c6c6c6" stroke-width="0.9" stroke-dasharray="0.9 2.1"/>
<line x1="29.6" x2="420.9" y1="751.4" y2="751.4" stroke="#c6c6c6" stroke-width="0.9" stroke-dasharray="0.9 2.1"/>
<line x1="29.6" x2="420.9" y1="826.9" y2="826.9" stroke="#c6c6c6" stroke-width="0.9" stroke-dasharray="0.9 2.1"/>
<line x1="29.6" x2="420.9" y1="902.5" y2="902.5" stroke="#c6c6c6" stroke-width="0.9" stroke-dasharray="0.9 2.1"/>
<line x1="55.3" x2="55.3" y1="488.25" y2="908.5" stroke="#f3f3f3" stroke-width="0.8"/>
<line x1="97.8" x2="97.8" y1="488.25" y2="908.5" stroke="#f3f3f3" stroke-width="0.8"/>
<line x1="140.3" x2="140.3" y1="488.25" y2="908.5" stroke="#f3f3f3" stroke-width="0.8"/>
<line x1="182.8" x2="182.8" y1="488.25" y2="908.5" stroke="#f3f3f3" stroke-width="0.8"/>
<line x1="225.3" x2="225.3" y1="488.25" y2="908.5" stroke="#f3f3f3" stroke-width="0.8"/>
<line x1="267.8" x2="267.8" y1="488.25" y2="908.5" stroke="#f3f3f3" stroke-width="0.8"/>
<line x1="310.3" x2="310.3" y1="488.25" y2="908.5" stroke="#f3f3f3" stroke-width="0.8"/>
<line x1="352.8" x2="352.8" y1="488.25" y2="908.5" stroke="#f3f3f3" stroke-width="0.8"/>
<line x1="395.3" x2="395.3" y1="488.25" y2="908.5" stroke="#f3f3f3" stroke-width="0.8"/>
<path d="M42.02 697.5V741.25M42.02 785.25V848.75" stroke="#6e6e6e" stroke-width="0.8" fill="none"/>
<rect x="39.52" y="741.25" width="5.01" height="44" fill="#FFFF00" stroke="#333" stroke-width="0.65"/>
<line x1="39.52" x2="44.53" y1="774.25" y2="774.25" stroke="#2e2e2e" stroke-width="1.2"/>
<path d="M47.33 611.25V649M47.33 725.75V764.5" stroke="#6e6e6e" stroke-width="0.8" fill="none"/>
<rect x="44.83" y="649" width="5.01" height="76.75" fill="#00FF00" stroke="#333" stroke-width="0.65"/>
<line x1="44.83" x2="49.84" y1="695.5" y2="695.5" stroke="#2e2e2e" stroke-width="1.2"/>
<path d="M52.64 563.75V612M52.64 656.5V685.5" stroke="#6e6e6e" stroke-width="0.8" fill="none"/>
<rect x="50.14" y="612" width="5.01" height="44.5" fill="#6B8E23" stroke="#333" stroke-width="0.65"/>
<line x1="50.14" x2="55.15" y1="639" y2="639" stroke="#2e2e2e" stroke-width="1.2"/>
<path d="M57.95 541.25V575.25M57.95 621.75V660" stroke="#6e6e6e" stroke-width="0.8" fill="none"/>
<rect x="55.45" y="575.25" width="5.01" height="46.5" fill="#0000FF" stroke="#333" stroke-width="0.65"/>
<line x1="55.45" x2="60.46" y1="607.5" y2="607.5" stroke="#2e2e2e" stroke-width="1.2"/>
<path d="M63.27 533.25V555.25M63.27 610V651.25" stroke="#6e6e6e" stroke-width="0.8" fill="none"/>
<rect x="60.76" y="555.25" width="5.01" height="54.75" fill="#FF0000" stroke="#333" stroke-width="0.65"/>
<line x1="60.76" x2="65.77" y1="578.75" y2="578.75" stroke="#2e2e2e" stroke-width="1.2"/>
<path d="M68.57 566.25V587.5M68.57 609.25V642" stroke="#6e6e6e" stroke-width="0.8" fill="none"/>
<rect x="66.07" y="587.5" width="5.01" height="21.75" fill="#A52A2A" stroke="#333" stroke-width="0.65"/>
<line x1="66.07" x2="71.08" y1="595" y2="595" stroke="#2e2e2e" stroke-width="1.2"/>
<path d="M84.53 678.75V713M84.53 791.5V848" stroke="#6e6e6e" stroke-width="0.8" fill="none"/>
<rect x="82.02" y="713" width="5.01" height="78.5" fill="#FFFF00" stroke="#333" stroke-width="0.65"/>
<line x1="82.02" x2="87.03" y1="744.25" y2="744.25" stroke="#2e2e2e" stroke-width="1.2"/>
<path d="M89.83 633.25V659.25M89.83 702.75V796.75" stroke="#6e6e6e" stroke-width="0.8" fill="none"/>
<rect x="87.33" y="659.25" width="5.01" height="43.5" fill="#00FF00" stroke="#333" stroke-width="0.65"/>
<line x1="87.33" x2="92.34" y1="669.5" y2="669.5" stroke="#2e2e2e" stroke-width="1.2"/>
<path d="M95.14 581.25V622.75M95.14 651.25V696.75" stroke="#6e6e6e" stroke-width="0.8" fill="none"/>
<rect x="92.64" y="622.75" width="5.01" height="28.5" fill="#6B8E23" stroke="#333" stroke-width="0.65"/>
<line x1="92.64" x2="97.65" y1="639.5" y2="639.5" stroke="#2e2e2e" stroke-width="1.2"/>
<path d="M100.45 548.25V571.75M100.45 609.75V643.75" stroke="#6e6e6e" stroke-width="0.8" fill="none"/>
<rect x="97.95" y="571.75" width="5.01" height="38" fill="#0000FF" stroke="#333" stroke-width="0.65"/>
<line x1="97.95" x2="102.96" y1="594.75" y2="594.75" stroke="#2e2e2e" stroke-width="1.2"/>
<path d="M105.77 531.75V573M105.77 611V627.5" stroke="#6e6e6e" stroke-width="0.8" fill="none"/>
<rect x="103.26" y="573" width="5.01" height="38" fill="#FF0000" stroke="#333" stroke-width="0.65"/>
<line x1="103.26" x2="108.27" y1="601.25" y2="601.25" stroke="#2e2e2e" stroke-width="1.2"/>
<path d="M111.07 558.25V608.25M111.07 665V710.75" stroke="#6e6e6e" stroke-width="0.8" fill="none"/>
<rect x="108.57" y="608.25" width="5.01" height="56.75" fill="#A52A2A" stroke="#333" stroke-width="0.65"/>
<line x1="108.57" x2="113.58" y1="632.75" y2="632.75" stroke="#2e2e2e" stroke-width="1.2"/>
<path d="M127.03 676.25V711.25M127.03 772V851.25" stroke="#6e6e6e" stroke-width="0.8" fill="none"/>
<rect x="124.52" y="711.25" width="5.01" height="60.75" fill="#FFFF00" stroke="#333" stroke-width="0.65"/>
<line x1="124.52" x2="129.53" y1="740.75" y2="740.75" stroke="#2e2e2e" stroke-width="1.2"/>
<path d="M132.34 625V660.75M132.34 699.25V723.25" stroke="#6e6e6e" stroke-width="0.8" fill="none"/>
<rect x="129.83" y="660.75" width="5.01" height="38.5" fill="#00FF00" stroke="#333" stroke-width="0.65"/>
<line x1="129.83" x2="134.84" y1="672" y2="672" stroke="#2e2e2e" stroke-width="1.2"/>
<path d="M137.65 572V593.25M137.65 640.5V695" stroke="#6e6e6e" stroke-width="0.8" fill="none"/>
<rect x="135.14" y="593.25" width="5.01" height="47.25" fill="#6B8E23" stroke="#333" stroke-width="0.65"/>
<line x1="135.14" x2="140.15" y1="611" y2="611" stroke="#2e2e2e" stroke-width="1.2"/>
<path d="M142.96 575V595M142.96 628V673" stroke="#6e6e6e" stroke-width="0.8" fill="none"/>
<rect x="140.45" y="595" width="5.01" height="33" fill="#0000FF" stroke="#333" stroke-width="0.65"/>
<line x1="140.45" x2="145.46" y1="604.5" y2="604.5" stroke="#2e2e2e" stroke-width="1.2"/>
<path d="M148.27 548.25V565.25M148.27 588.75V611.25" stroke="#6e6e6e" stroke-width="0.8" fill="none"/>
<rect x="145.76" y="565.25" width="5.01" height="23.5" fill="#FF0000" stroke="#333" stroke-width="0.65"/>
<line x1="145.76" x2="150.77" y1="577" y2="577" stroke="#2e2e2e" stroke-width="1.2"/>
<path d="M153.58 555V598.25M153.58 668V693" stroke="#6e6e6e" stroke-width="0.8" fill="none"/>
<rect x="151.07" y="598.25" width="5.01" height="69.75" fill="#A52A2A" stroke="#333" stroke-width="0.65"/>
<line x1="151.07" x2="156.08" y1="628.5" y2="628.5" stroke="#2e2e2e" stroke-width="1.2"/>
<path d="M169.53 623.75V685.75M169.53 750.25V889.5" stroke="#6e6e6e" stroke-width="0.8" fill="none"/>
<rect x="167.02" y="685.75" width="5.01" height="64.5" fill="#FFFF00" stroke="#333" stroke-width="0.65"/>
<line x1="167.02" x2="172.03" y1="705" y2="705" stroke="#2e2e2e" stroke-width="1.2"/>
<path d="M174.84 633.25V650.5M174.84 694.75V754.25" stroke="#6e6e6e" stroke-width="0.8" fill="none"/>
<rect x="172.33" y="650.5" width="5.01" height="44.25" fill="#00FF00" stroke="#333" stroke-width="0.65"/>
<line x1="172.33" x2="177.34" y1="668" y2="668" stroke="#2e2e2e" stroke-width="1.2"/>
<path d="M180.15 573.75V608.25M180.15 644.5V691.25" stroke="#6e6e6e" stroke-width="0.8" fill="none"/>
<rect x="177.64" y="608.25" width="5.01" height="36.25" fill="#6B8E23" stroke="#333" stroke-width="0.65"/>
<line x1="177.64" x2="182.65" y1="627" y2="627" stroke="#2e2e2e" stroke-width="1.2"/>
<path d="M185.46 524.5V564.25M185.46 592.5V620" stroke="#6e6e6e" stroke-width="0.8" fill="none"/>
<rect x="182.95" y="564.25" width="5.01" height="28.25" fill="#0000FF" stroke="#333" stroke-width="0.65"/>
<line x1="182.95" x2="187.96" y1="581.25" y2="581.25" stroke="#2e2e2e" stroke-width="1.2"/>
<path d="M190.77 535.5V570.25M190.77 611V677" stroke="#6e6e6e" stroke-width="0.8" fill="none"/>
<rect x="188.26" y="570.25" width="5.01" height="40.75" fill="#FF0000" stroke="#333" stroke-width="0.65"/>
<line x1="188.26" x2="193.27" y1="590.75" y2="590.75" stroke="#2e2e2e" stroke-width="1.2"/>
<path d="M196.08 584.5V607M196.08 634.25V665.5" stroke="#6e6e6e" stroke-width="0.8" fill="none"/>
<rect x="193.57" y="607" width="5.01" height="27.25" fill="#A52A2A" stroke="#333" stroke-width="0.65"/>
<line x1="193.57" x2="198.58" y1="612.25" y2="612.25" stroke="#2e2e2e" stroke-width="1.2"/>
<path d="M212.03 623.75V688.5M212.03 736.5V774.5" stroke="#6e6e6e" stroke-width="0.8" fill="none"/>
<rect x="209.52" y="688.5" width="5.01" height="48" fill="#FFFF00" stroke="#333" stroke-width="0.65"/>
<line x1="209.52" x2="214.53" y1="712.75" y2="712.75" stroke="#2e2e2e" stroke-width="1.2"/>
<path d="M217.34 611.25V640.5M217.34 679V712" stroke="#6e6e6e" stroke-width="0.8" fill="none"/>
<rect x="214.83" y="640.5" width="5.01" height="38.5" fill="#00FF00" stroke="#333" stroke-width="0.65"/>
<line x1="214.83" x2="219.84" y1="655" y2="655" stroke="#2e2e2e" stroke-width="1.2"/>
<path d="M222.65 557V583.5M222.65 624.25V640" stroke="#6e6e6e" stroke-width="0.8" fill="none"/>
<rect x="220.14" y="583.5" width="5.01" height="40.75" fill="#6B8E23" stroke="#333" stroke-width="0.65"/>
<line x1="220.14" x2="225.15" y1="594.25" y2="594.25" stroke="#2e2e2e" stroke-width="1.2"/>
<path d="M227.96 548.25V571.5M227.96 619.25V639.25" stroke="#6e6e6e" stroke-width="0.8" fill="none"/>
<rect x="225.45" y="571.5" width="5.01" height="47.75" fill="#0000FF" stroke="#333" stroke-width="0.65"/>
<line x1="225.45" x2="230.46" y1="590.5" y2="590.5" stroke="#2e2e2e" stroke-width="1.2"/>
<path d="M233.27 513V552.75M233.27 578V607.5" stroke="#6e6e6e" stroke-width="0.8" fill="none"/>
<rect x="230.76" y="552.75" width="5.01" height="25.25" fill="#FF0000" stroke="#333" stroke-width="0.65"/>
<line x1="230.76" x2="235.77" y1="565.5" y2="565.5" stroke="#2e2e2e" stroke-width="1.2"/>
<path d="M238.58 569.5V599.25M238.58 645.25V721.75" stroke="#6e6e6e" stroke-width="0.8" fill="none"/>
<rect x="236.07" y="599.25" width="5.01" height="46" fill="#A52A2A" stroke="#333" stroke-width="0.65"/>
<line x1="236.07" x2="241.08" y1="620" y2="620" stroke="#2e2e2e" stroke-width="1.2"/>
<path d="M254.53 700V719.5M254.53 771.25V839" stroke="#6e6e6e" stroke-width="0.8" fill="none"/>
<rect x="252.02" y="719.5" width="5.01" height="51.75" fill="#FFFF00" stroke="#333" stroke-width="0.65"/>
<line x1="252.02" x2="257.03" y1="733.5" y2="733.5" stroke="#2e2e2e" stroke-width="1.2"/>
<path d="M259.84 585.75V620M259.84 688.5V739" stroke="#6e6e6e" stroke-width="0.8" fill="none"/>
<rect x="257.33" y="620" width="5.01" height="68.5" fill="#00FF00" stroke="#333" stroke-width="0.65"/>
<line x1="257.33" x2="262.34" y1="669.75" y2="669.75" stroke="#2e2e2e" stroke-width="1.2"/>
<path d="M265.15 566.25V599.25M265.15 630.25V658.75" stroke="#6e6e6e" stroke-width="0.8" fill="none"/>
<rect x="262.64" y="599.25" width="5.01" height="31" fill="#6B8E23" stroke="#333" stroke-width="0.65"/>
<line x1="262.64" x2="267.65" y1="613.75" y2="613.75" stroke="#2e2e2e" stroke-width="1.2"/>
<path d="M270.45 573.75V597.5M270.45 618.25V647" stroke="#6e6e6e" stroke-width="0.8" fill="none"/>
<rect x="267.95" y="597.5" width="5.01" height="20.75" fill="#0000FF" stroke="#333" stroke-width="0.65"/>
<line x1="267.95" x2="272.96" y1="608" y2="608" stroke="#2e2e2e" stroke-width="1.2"/>
<path d="M275.76 556.75V570.5M275.76 609.25V630" stroke="#6e6e6e" stroke-width="0.8" fill="none"/>
<rect x="273.26" y="570.5" width="5.01" height="38.75" fill="#FF0000" stroke="#333" stroke-width="0.65"/>
<line x1="273.26" x2="278.27" y1="596.25" y2="596.25" stroke="#2e2e2e" stroke-width="1.2"/>
<path d="M281.07 568.75V606.5M281.07 654.25V725" stroke="#6e6e6e" stroke-width="0.8" fill="none"/>
<rect x="278.57" y="606.5" width="5.01" height="47.75" fill="#A52A2A" stroke="#333" stroke-width="0.65"/>
<line x1="278.57" x2="283.58" y1="625.5" y2="625.5" stroke="#2e2e2e" stroke-width="1.2"/>
<path d="M297.03 600V639.5M297.03 729.5V779.5" stroke="#6e6e6e" stroke-width="0.8" fill="none"/>
<rect x="294.52" y="639.5" width="5.01" height="90" fill="#FFFF00" stroke="#333" stroke-width="0.65"/>
<line x1="294.52" x2="299.53" y1="704.25" y2="704.25" stroke="#2e2e2e" stroke-width="1.2"/>
<path d="M302.34 585.5V640.25M302.34 684.25V713.75" stroke="#6e6e6e" stroke-width="0.8" fill="none"/>
<rect x="299.83" y="640.25" width="5.01" height="44" fill="#00FF00" stroke="#333" stroke-width="0.65"/>
<line x1="299.83" x2="304.84" y1="663.75" y2="663.75" stroke="#2e2e2e" stroke-width="1.2"/>
<path d="M307.65 578.25V602.5M307.65 632.25V648.75" stroke="#6e6e6e" stroke-width="0.8" fill="none"/>
<rect x="305.14" y="602.5" width="5.01" height="29.75" fill="#6B8E23" stroke="#333" stroke-width="0.65"/>
<line x1="305.14" x2="310.15" y1="616" y2="616" stroke="#2e2e2e" stroke-width="1.2"/>
<path d="M312.95 539V572.75M312.95 595.25V626.25" stroke="#6e6e6e" stroke-width="0.8" fill="none"/>
<rect x="310.45" y="572.75" width="5.01" height="22.5" fill="#0000FF" stroke="#333" stroke-width="0.65"/>
<line x1="310.45" x2="315.46" y1="583.25" y2="583.25" stroke="#2e2e2e" stroke-width="1.2"/>
<path d="M318.26 543.75V569.5M318.26 595.5V627" stroke="#6e6e6e" stroke-width="0.8" fill="none"/>
<rect x="315.76" y="569.5" width="5.01" height="26" fill="#FF0000" stroke="#333" stroke-width="0.65"/>
<line x1="315.76" x2="320.77" y1="580.75" y2="580.75" stroke="#2e2e2e" stroke-width="1.2"/>
<path d="M323.57 573.25V601.5M323.57 638V702.5" stroke="#6e6e6e" stroke-width="0.8" fill="none"/>
<rect x="321.07" y="601.5" width="5.01" height="36.5" fill="#A52A2A" stroke="#333" stroke-width="0.65"/>
<line x1="321.07" x2="326.08" y1="608.25" y2="608.25" stroke="#2e2e2e" stroke-width="1.2"/>
<path d="M339.53 698.25V738M339.53 786.75V873" stroke="#6e6e6e" stroke-width="0.8" fill="none"/>
<rect x="337.02" y="738" width="5.01" height="48.75" fill="#FFFF00" stroke="#333" stroke-width="0.65"/>
<line x1="337.02" x2="342.03" y1="768.25" y2="768.25" stroke="#2e2e2e" stroke-width="1.2"/>
<path d="M344.84 597.5V644.5M344.84 678.75V710.75" stroke="#6e6e6e" stroke-width="0.8" fill="none"/>
<rect x="342.33" y="644.5" width="5.01" height="34.25" fill="#00FF00" stroke="#333" stroke-width="0.65"/>
<line x1="342.33" x2="347.34" y1="668" y2="668" stroke="#2e2e2e" stroke-width="1.2"/>
<path d="M350.15 573V616.5M350.15 661.25V720" stroke="#6e6e6e" stroke-width="0.8" fill="none"/>
<rect x="347.64" y="616.5" width="5.01" height="44.75" fill="#6B8E23" stroke="#333" stroke-width="0.65"/>
<line x1="347.64" x2="352.65" y1="637.25" y2="637.25" stroke="#2e2e2e" stroke-width="1.2"/>
<path d="M355.45 546.75V574.5M355.45 599.5V645" stroke="#6e6e6e" stroke-width="0.8" fill="none"/>
<rect x="352.95" y="574.5" width="5.01" height="25" fill="#0000FF" stroke="#333" stroke-width="0.65"/>
<line x1="352.95" x2="357.96" y1="585.75" y2="585.75" stroke="#2e2e2e" stroke-width="1.2"/>
<path d="M360.76 552.5V583.5M360.76 618.25V648.75" stroke="#6e6e6e" stroke-width="0.8" fill="none"/>
<rect x="358.26" y="583.5" width="5.01" height="34.75" fill="#FF0000" stroke="#333" stroke-width="0.65"/>
<line x1="358.26" x2="363.27" y1="602.75" y2="602.75" stroke="#2e2e2e" stroke-width="1.2"/>
<path d="M366.07 593.75V631.25M366.07 664.5V715" stroke="#6e6e6e" stroke-width="0.8" fill="none"/>
<rect x="363.57" y="631.25" width="5.01" height="33.25" fill="#A52A2A" stroke="#333" stroke-width="0.65"/>
<line x1="363.57" x2="368.58" y1="653" y2="653" stroke="#2e2e2e" stroke-width="1.2"/>
<path d="M382.03 660V703.75M382.03 741.5V799.25" stroke="#6e6e6e" stroke-width="0.8" fill="none"/>
<rect x="379.52" y="703.75" width="5.01" height="37.75" fill="#FFFF00" stroke="#333" stroke-width="0.65"/>
<line x1="379.52" x2="384.53" y1="719.25" y2="719.25" stroke="#2e2e2e" stroke-width="1.2"/>
<path d="M387.34 613.25V639M387.34 681.25V731.25" stroke="#6e6e6e" stroke-width="0.8" fill="none"/>
<rect x="384.83" y="639" width="5.01" height="42.25" fill="#00FF00" stroke="#333" stroke-width="0.65"/>
<line x1="384.83" x2="389.84" y1="650.5" y2="650.5" stroke="#2e2e2e" stroke-width="1.2"/>
<path d="M392.65 560.5V611.75M392.65 654.75V702.5" stroke="#6e6e6e" stroke-width="0.8" fill="none"/>
<rect x="390.14" y="611.75" width="5.01" height="43" fill="#6B8E23" stroke="#333" stroke-width="0.65"/>
<line x1="390.14" x2="395.15" y1="635.5" y2="635.5" stroke="#2e2e2e" stroke-width="1.2"/>
<path d="M397.95 532.5V567.5M397.95 585.5V625.75" stroke="#6e6e6e" stroke-width="0.8" fill="none"/>
<rect x="395.45" y="567.5" width="5.01" height="18" fill="#0000FF" stroke="#333" stroke-width="0.65"/>
<line x1="395.45" x2="400.46" y1="578.25" y2="578.25" stroke="#2e2e2e" stroke-width="1.2"/>
<path d="M403.26 507.5V544.75M403.26 580.75V632.5" stroke="#6e6e6e" stroke-width="0.8" fill="none"/>
<rect x="400.76" y="544.75" width="5.01" height="36" fill="#FF0000" stroke="#333" stroke-width="0.65"/>
<line x1="400.76" x2="405.77" y1="566.25" y2="566.25" stroke="#2e2e2e" stroke-width="1.2"/>
<path d="M408.57 530.5V572M408.57 608.25V626.25" stroke="#6e6e6e" stroke-width="0.8" fill="none"/>
<rect x="406.07" y="572" width="5.01" height="36.25" fill="#A52A2A" stroke="#333" stroke-width="0.65"/>
<line x1="406.07" x2="411.08" y1="590.5" y2="590.5" stroke="#2e2e2e" stroke-width="1.2"/>
<circle cx="94.75" cy="731.5" r="1.45" fill="#111"/>
<circle cx="312.75" cy="658" r="1.45" fill="#111"/>
<circle cx="397.75" cy="638" r="1.45" fill="#111"/>
<rect x="29.6" y="488.25" width="391.3" height="420.25" fill="none" stroke="#cacaca" stroke-width="1.3"/>
<line x1="26.7" x2="29.3" y1="562.4" y2="562.4" stroke="#555" stroke-width="0.9"/>
<text transform="translate(24.2 565.86) scale(0.95 1)" font-size="9.6" font-weight="bold" text-anchor="end" fill="#111" stroke="#111" stroke-width="0.3">80</text>
<line x1="26.7" x2="29.3" y1="638" y2="638" stroke="#555" stroke-width="0.9"/>
<text transform="translate(24.2 641.46) scale(0.95 1)" font-size="9.6" font-weight="bold" text-anchor="end" fill="#111" stroke="#111" stroke-width="0.3">70</text>
<line x1="26.7" x2="29.3" y1="713.6" y2="713.6" stroke="#555" stroke-width="0.9"/>
<text transform="translate(24.2 717.06) scale(0.95 1)" font-size="9.6" font-weight="bold" text-anchor="end" fill="#111" stroke="#111" stroke-width="0.3">60</text>
<line x1="26.7" x2="29.3" y1="789.2" y2="789.2" stroke="#555" stroke-width="0.9"/>
<text transform="translate(24.2 792.66) scale(0.95 1)" font-size="9.6" font-weight="bold" text-anchor="end" fill="#111" stroke="#111" stroke-width="0.3">50</text>
<line x1="26.7" x2="29.3" y1="864.6" y2="864.6" stroke="#555" stroke-width="0.9"/>
<text transform="translate(24.2 868.06) scale(0.95 1)" font-size="9.6" font-weight="bold" text-anchor="end" fill="#111" stroke="#111" stroke-width="0.3">40</text>
<line x1="55.3" x2="55.3" y1="908.8" y2="911.4" stroke="#555" stroke-width="0.9"/>
<text transform="translate(61.5 914.1) rotate(-90) scale(0.95 1)" font-size="9.6" font-weight="bold" text-anchor="end" fill="#111" stroke="#111" stroke-width="0.3">2002</text>
<line x1="97.8" x2="97.8" y1="908.8" y2="911.4" stroke="#555" stroke-width="0.9"/>
<text transform="translate(104 914.1) rotate(-90) scale(0.95 1)" font-size="9.6" font-weight="bold" text-anchor="end" fill="#111" stroke="#111" stroke-width="0.3">2003</text>
<line x1="140.3" x2="140.3" y1="908.8" y2="911.4" stroke="#555" stroke-width="0.9"/>
<text transform="translate(146.5 914.1) rotate(-90) scale(0.95 1)" font-size="9.6" font-weight="bold" text-anchor="end" fill="#111" stroke="#111" stroke-width="0.3">2004</text>
<line x1="182.8" x2="182.8" y1="908.8" y2="911.4" stroke="#555" stroke-width="0.9"/>
<text transform="translate(189 914.1) rotate(-90) scale(0.95 1)" font-size="9.6" font-weight="bold" text-anchor="end" fill="#111" stroke="#111" stroke-width="0.3">2005</text>
<line x1="225.3" x2="225.3" y1="908.8" y2="911.4" stroke="#555" stroke-width="0.9"/>
<text transform="translate(231.5 914.1) rotate(-90) scale(0.95 1)" font-size="9.6" font-weight="bold" text-anchor="end" fill="#111" stroke="#111" stroke-width="0.3">2006</text>
<line x1="267.8" x2="267.8" y1="908.8" y2="911.4" stroke="#555" stroke-width="0.9"/>
<text transform="translate(274 914.1) rotate(-90) scale(0.95 1)" font-size="9.6" font-weight="bold" text-anchor="end" fill="#111" stroke="#111" stroke-width="0.3">2007</text>
<line x1="310.3" x2="310.3" y1="908.8" y2="911.4" stroke="#555" stroke-width="0.9"/>
<text transform="translate(316.5 914.1) rotate(-90) scale(0.95 1)" font-size="9.6" font-weight="bold" text-anchor="end" fill="#111" stroke="#111" stroke-width="0.3">2008</text>
<line x1="352.8" x2="352.8" y1="908.8" y2="911.4" stroke="#555" stroke-width="0.9"/>
<text transform="translate(359 914.1) rotate(-90) scale(0.95 1)" font-size="9.6" font-weight="bold" text-anchor="end" fill="#111" stroke="#111" stroke-width="0.3">2009</text>
<line x1="395.3" x2="395.3" y1="908.8" y2="911.4" stroke="#555" stroke-width="0.9"/>
<text transform="translate(401.5 914.1) rotate(-90) scale(0.95 1)" font-size="9.6" font-weight="bold" text-anchor="end" fill="#111" stroke="#111" stroke-width="0.3">2010</text>
<text x="225.55" y="946.9" font-size="10.7" text-anchor="middle" fill="#222" letter-spacing="0.6">Year</text>
<text transform="translate(11 698.38) rotate(-90)" font-size="10.4" text-anchor="middle" fill="#222" letter-spacing="0.3">HLI_New</text>
<text x="431.8" y="654.85" font-size="11" font-weight="bold" fill="#111">Month</text>
<rect x="431.6" y="658.75" width="15.6" height="15.33" fill="#fff" stroke="#dcdcdc" stroke-width="0.7"/>
<path d="M439.4 660.05V662.42M439.4 670.42V672.75" stroke="#3a3a3a" stroke-width="1"/>
<rect x="433.5" y="662.47" width="11.8" height="7.9" fill="#FFFF00" stroke="#444" stroke-width="0.55"/>
<line x1="433.5" x2="445.3" y1="666.42" y2="666.42" stroke="#3a3a3a" stroke-width="1"/>
<text x="448.7" y="669.62" font-size="9.6" fill="#111" stroke="#111" stroke-width="0.15">April</text>
<rect x="431.6" y="674.08" width="15.6" height="15.33" fill="#fff" stroke="#dcdcdc" stroke-width="0.7"/>
<path d="M439.4 675.38V677.75M439.4 685.75V688.08" stroke="#3a3a3a" stroke-width="1"/>
<rect x="433.5" y="677.8" width="11.8" height="7.9" fill="#00FF00" stroke="#444" stroke-width="0.55"/>
<line x1="433.5" x2="445.3" y1="681.75" y2="681.75" stroke="#3a3a3a" stroke-width="1"/>
<text x="448.7" y="684.95" font-size="9.6" fill="#111" stroke="#111" stroke-width="0.15">May</text>
<rect x="431.6" y="689.41" width="15.6" height="15.33" fill="#fff" stroke="#dcdcdc" stroke-width="0.7"/>
<path d="M439.4 690.71V693.08M439.4 701.08V703.41" stroke="#3a3a3a" stroke-width="1"/>
<rect x="433.5" y="693.13" width="11.8" height="7.9" fill="#6B8E23" stroke="#444" stroke-width="0.55"/>
<line x1="433.5" x2="445.3" y1="697.08" y2="697.08" stroke="#3a3a3a" stroke-width="1"/>
<text x="448.7" y="700.28" font-size="9.6" fill="#111" stroke="#111" stroke-width="0.15">June</text>
<rect x="431.6" y="704.74" width="15.6" height="15.33" fill="#fff" stroke="#dcdcdc" stroke-width="0.7"/>
<path d="M439.4 706.04V708.41M439.4 716.41V718.74" stroke="#3a3a3a" stroke-width="1"/>
<rect x="433.5" y="708.46" width="11.8" height="7.9" fill="#0000FF" stroke="#444" stroke-width="0.55"/>
<line x1="433.5" x2="445.3" y1="712.41" y2="712.41" stroke="#3a3a3a" stroke-width="1"/>
<text x="448.7" y="715.61" font-size="9.6" fill="#111" stroke="#111" stroke-width="0.15">July</text>
<rect x="431.6" y="720.07" width="15.6" height="15.33" fill="#fff" stroke="#dcdcdc" stroke-width="0.7"/>
<path d="M439.4 721.37V723.74M439.4 731.74V734.07" stroke="#3a3a3a" stroke-width="1"/>
<rect x="433.5" y="723.79" width="11.8" height="7.9" fill="#FF0000" stroke="#444" stroke-width="0.55"/>
<line x1="433.5" x2="445.3" y1="727.74" y2="727.74" stroke="#3a3a3a" stroke-width="1"/>
<text x="448.7" y="730.94" font-size="9.6" fill="#111" stroke="#111" stroke-width="0.15">August</text>
<rect x="431.6" y="735.4" width="15.6" height="15.33" fill="#fff" stroke="#dcdcdc" stroke-width="0.7"/>
<path d="M439.4 736.7V739.07M439.4 747.07V749.4" stroke="#3a3a3a" stroke-width="1"/>
<rect x="433.5" y="739.12" width="11.8" height="7.9" fill="#A52A2A" stroke="#444" stroke-width="0.55"/>
<line x1="433.5" x2="445.3" y1="743.07" y2="743.07" stroke="#3a3a3a" stroke-width="1"/>
<text x="448.7" y="746.27" font-size="9.6" fill="#111" stroke="#111" stroke-width="0.15">September</text>
</g>
<g>
<line x1="559.5" x2="947" y1="569.3" y2="569.3" stroke="#f3f3f3" stroke-width="0.8"/>
<line x1="559.5" x2="947" y1="671.7" y2="671.7" stroke="#f3f3f3" stroke-width="0.8"/>
<line x1="559.5" x2="947" y1="773.9" y2="773.9" stroke="#f3f3f3" stroke-width="0.8"/>
<line x1="559.5" x2="947" y1="876" y2="876" stroke="#f3f3f3" stroke-width="0.8"/>
<line x1="559.5" x2="947" y1="518.2" y2="518.2" stroke="#c6c6c6" stroke-width="0.9" stroke-dasharray="0.9 2.1"/>
<line x1="559.5" x2="947" y1="620.5" y2="620.5" stroke="#c6c6c6" stroke-width="0.9" stroke-dasharray="0.9 2.1"/>
<line x1="559.5" x2="947" y1="722.8" y2="722.8" stroke="#c6c6c6" stroke-width="0.9" stroke-dasharray="0.9 2.1"/>
<line x1="559.5" x2="947" y1="825" y2="825" stroke="#c6c6c6" stroke-width="0.9" stroke-dasharray="0.9 2.1"/>
<line x1="584.7" x2="584.7" y1="488.25" y2="908.6" stroke="#f3f3f3" stroke-width="0.8"/>
<line x1="626.8" x2="626.8" y1="488.25" y2="908.6" stroke="#f3f3f3" stroke-width="0.8"/>
<line x1="668.9" x2="668.9" y1="488.25" y2="908.6" stroke="#f3f3f3" stroke-width="0.8"/>
<line x1="711" x2="711" y1="488.25" y2="908.6" stroke="#f3f3f3" stroke-width="0.8"/>
<line x1="753.1" x2="753.1" y1="488.25" y2="908.6" stroke="#f3f3f3" stroke-width="0.8"/>
<line x1="795.2" x2="795.2" y1="488.25" y2="908.6" stroke="#f3f3f3" stroke-width="0.8"/>
<line x1="837.3" x2="837.3" y1="488.25" y2="908.6" stroke="#f3f3f3" stroke-width="0.8"/>
<line x1="879.4" x2="879.4" y1="488.25" y2="908.6" stroke="#f3f3f3" stroke-width="0.8"/>
<line x1="921.5" x2="921.5" y1="488.25" y2="908.6" stroke="#f3f3f3" stroke-width="0.8"/>
<path d="M571.55 711.25V748.5M571.55 796.75V839.5" stroke="#6e6e6e" stroke-width="0.8" fill="none"/>
<rect x="569.07" y="748.5" width="4.96" height="48.25" fill="#FFFF00" stroke="#333" stroke-width="0.65"/>
<line x1="569.07" x2="574.03" y1="774.25" y2="774.25" stroke="#2e2e2e" stroke-width="1.2"/>
<path d="M576.81 613.75V656.5M576.81 737V767.75" stroke="#6e6e6e" stroke-width="0.8" fill="none"/>
<rect x="574.33" y="656.5" width="4.96" height="80.5" fill="#00FF00" stroke="#333" stroke-width="0.65"/>
<line x1="574.33" x2="579.29" y1="701.25" y2="701.25" stroke="#2e2e2e" stroke-width="1.2"/>
<path d="M582.07 577V602M582.07 644.5V668.75" stroke="#6e6e6e" stroke-width="0.8" fill="none"/>
<rect x="579.59" y="602" width="4.96" height="42.5" fill="#6B8E23" stroke="#333" stroke-width="0.65"/>
<line x1="579.59" x2="584.55" y1="628.5" y2="628.5" stroke="#2e2e2e" stroke-width="1.2"/>
<path d="M587.33 537.5V566M587.33 600V647.5" stroke="#6e6e6e" stroke-width="0.8" fill="none"/>
<rect x="584.85" y="566" width="4.96" height="34" fill="#0000FF" stroke="#333" stroke-width="0.65"/>
<line x1="584.85" x2="589.81" y1="580.25" y2="580.25" stroke="#2e2e2e" stroke-width="1.2"/>
<path d="M592.59 543.25V552.75M592.59 591.5V640.75" stroke="#6e6e6e" stroke-width="0.8" fill="none"/>
<rect x="590.11" y="552.75" width="4.96" height="38.75" fill="#FF0000" stroke="#333" stroke-width="0.65"/>
<line x1="590.11" x2="595.07" y1="572.5" y2="572.5" stroke="#2e2e2e" stroke-width="1.2"/>
<path d="M597.85 583.75V594.75M597.85 621.25V643.25" stroke="#6e6e6e" stroke-width="0.8" fill="none"/>
<rect x="595.37" y="594.75" width="4.96" height="26.5" fill="#A52A2A" stroke="#333" stroke-width="0.65"/>
<line x1="595.37" x2="600.33" y1="606.5" y2="606.5" stroke="#2e2e2e" stroke-width="1.2"/>
<path d="M613.65 677V725M613.65 803V854" stroke="#6e6e6e" stroke-width="0.8" fill="none"/>
<rect x="611.17" y="725" width="4.96" height="78" fill="#FFFF00" stroke="#333" stroke-width="0.65"/>
<line x1="611.17" x2="616.13" y1="762.25" y2="762.25" stroke="#2e2e2e" stroke-width="1.2"/>
<path d="M618.91 649.25V671.75M618.91 718V811.5" stroke="#6e6e6e" stroke-width="0.8" fill="none"/>
<rect x="616.43" y="671.75" width="4.96" height="46.25" fill="#00FF00" stroke="#333" stroke-width="0.65"/>
<line x1="616.43" x2="621.39" y1="691.25" y2="691.25" stroke="#2e2e2e" stroke-width="1.2"/>
<path d="M624.17 590V612M624.17 652.25V730.5" stroke="#6e6e6e" stroke-width="0.8" fill="none"/>
<rect x="621.69" y="612" width="4.96" height="40.25" fill="#6B8E23" stroke="#333" stroke-width="0.65"/>
<line x1="621.69" x2="626.65" y1="632.75" y2="632.75" stroke="#2e2e2e" stroke-width="1.2"/>
<path d="M629.43 535.5V560M629.43 585.5V628.5" stroke="#6e6e6e" stroke-width="0.8" fill="none"/>
<rect x="626.95" y="560" width="4.96" height="25.5" fill="#0000FF" stroke="#333" stroke-width="0.65"/>
<line x1="626.95" x2="631.91" y1="571.75" y2="571.75" stroke="#2e2e2e" stroke-width="1.2"/>
<path d="M634.69 525.75V565.5M634.69 594.25V610" stroke="#6e6e6e" stroke-width="0.8" fill="none"/>
<rect x="632.21" y="565.5" width="4.96" height="28.75" fill="#FF0000" stroke="#333" stroke-width="0.65"/>
<line x1="632.21" x2="637.17" y1="584.5" y2="584.5" stroke="#2e2e2e" stroke-width="1.2"/>
<path d="M639.95 579.25V616.25M639.95 676.5V701.25" stroke="#6e6e6e" stroke-width="0.8" fill="none"/>
<rect x="637.47" y="616.25" width="4.96" height="60.25" fill="#A52A2A" stroke="#333" stroke-width="0.65"/>
<line x1="637.47" x2="642.43" y1="634.5" y2="634.5" stroke="#2e2e2e" stroke-width="1.2"/>
<path d="M655.75 689.25V720.75M655.75 793.5V889.5" stroke="#6e6e6e" stroke-width="0.8" fill="none"/>
<rect x="653.27" y="720.75" width="4.96" height="72.75" fill="#FFFF00" stroke="#333" stroke-width="0.65"/>
<line x1="653.27" x2="658.23" y1="763" y2="763" stroke="#2e2e2e" stroke-width="1.2"/>
<path d="M661.01 628.25V659.5M661.01 705.25V731.25" stroke="#6e6e6e" stroke-width="0.8" fill="none"/>
<rect x="658.53" y="659.5" width="4.96" height="45.75" fill="#00FF00" stroke="#333" stroke-width="0.65"/>
<line x1="658.53" x2="663.49" y1="685.75" y2="685.75" stroke="#2e2e2e" stroke-width="1.2"/>
<path d="M666.27 555.75V575.5M666.27 629V678.25" stroke="#6e6e6e" stroke-width="0.8" fill="none"/>
<rect x="663.79" y="575.5" width="4.96" height="53.5" fill="#6B8E23" stroke="#333" stroke-width="0.65"/>
<line x1="663.79" x2="668.75" y1="607.25" y2="607.25" stroke="#2e2e2e" stroke-width="1.2"/>
<path d="M671.53 560.75V583.5M671.53 603.75V649.25" stroke="#6e6e6e" stroke-width="0.8" fill="none"/>
<rect x="669.05" y="583.5" width="4.96" height="20.25" fill="#0000FF" stroke="#333" stroke-width="0.65"/>
<line x1="669.05" x2="674.01" y1="594.25" y2="594.25" stroke="#2e2e2e" stroke-width="1.2"/>
<path d="M676.79 539.25V558.5M676.79 579.75V593.75" stroke="#6e6e6e" stroke-width="0.8" fill="none"/>
<rect x="674.31" y="558.5" width="4.96" height="21.25" fill="#FF0000" stroke="#333" stroke-width="0.65"/>
<line x1="674.31" x2="679.27" y1="566.25" y2="566.25" stroke="#2e2e2e" stroke-width="1.2"/>
<path d="M682.05 562.5V596M682.05 666.5V685.5" stroke="#6e6e6e" stroke-width="0.8" fill="none"/>
<rect x="679.57" y="596" width="4.96" height="70.5" fill="#A52A2A" stroke="#333" stroke-width="0.65"/>
<line x1="679.57" x2="684.53" y1="635.75" y2="635.75" stroke="#2e2e2e" stroke-width="1.2"/>
<path d="M697.85 625V689.5M697.85 780V888.75" stroke="#6e6e6e" stroke-width="0.8" fill="none"/>
<rect x="695.37" y="689.5" width="4.96" height="90.5" fill="#FFFF00" stroke="#333" stroke-width="0.65"/>
<line x1="695.37" x2="700.33" y1="720" y2="720" stroke="#2e2e2e" stroke-width="1.2"/>
<path d="M703.11 638.25V664M703.11 695.25V763.25" stroke="#6e6e6e" stroke-width="0.8" fill="none"/>
<rect x="700.63" y="664" width="4.96" height="31.25" fill="#00FF00" stroke="#333" stroke-width="0.65"/>
<line x1="700.63" x2="705.59" y1="678" y2="678" stroke="#2e2e2e" stroke-width="1.2"/>
<path d="M708.37 563.75V599.25M708.37 638.25V675" stroke="#6e6e6e" stroke-width="0.8" fill="none"/>
<rect x="705.89" y="599.25" width="4.96" height="39" fill="#6B8E23" stroke="#333" stroke-width="0.65"/>
<line x1="705.89" x2="710.85" y1="616.25" y2="616.25" stroke="#2e2e2e" stroke-width="1.2"/>
<path d="M713.63 517V547.25M713.63 570.25V591.25" stroke="#6e6e6e" stroke-width="0.8" fill="none"/>
<rect x="711.15" y="547.25" width="4.96" height="23" fill="#0000FF" stroke="#333" stroke-width="0.65"/>
<line x1="711.15" x2="716.11" y1="558.75" y2="558.75" stroke="#2e2e2e" stroke-width="1.2"/>
<path d="M718.89 524.25V564.5M718.89 597.5V663.75" stroke="#6e6e6e" stroke-width="0.8" fill="none"/>
<rect x="716.41" y="564.5" width="4.96" height="33" fill="#FF0000" stroke="#333" stroke-width="0.65"/>
<line x1="716.41" x2="721.37" y1="573" y2="573" stroke="#2e2e2e" stroke-width="1.2"/>
<path d="M724.15 582.5V605M724.15 628.75V675.75" stroke="#6e6e6e" stroke-width="0.8" fill="none"/>
<rect x="721.67" y="605" width="4.96" height="23.75" fill="#A52A2A" stroke="#333" stroke-width="0.65"/>
<line x1="721.67" x2="726.63" y1="616.75" y2="616.75" stroke="#2e2e2e" stroke-width="1.2"/>
<path d="M739.95 662.5V701.5M739.95 750V783.25" stroke="#6e6e6e" stroke-width="0.8" fill="none"/>
<rect x="737.47" y="701.5" width="4.96" height="48.5" fill="#FFFF00" stroke="#333" stroke-width="0.65"/>
<line x1="737.47" x2="742.43" y1="725.75" y2="725.75" stroke="#2e2e2e" stroke-width="1.2"/>
<path d="M745.21 618.25V638.25M745.21 680.75V712" stroke="#6e6e6e" stroke-width="0.8" fill="none"/>
<rect x="742.73" y="638.25" width="4.96" height="42.5" fill="#00FF00" stroke="#333" stroke-width="0.65"/>
<line x1="742.73" x2="747.69" y1="654.25" y2="654.25" stroke="#2e2e2e" stroke-width="1.2"/>
<path d="M750.47 546.25V566.5M750.47 600V617" stroke="#6e6e6e" stroke-width="0.8" fill="none"/>
<rect x="747.99" y="566.5" width="4.96" height="33.5" fill="#6B8E23" stroke="#333" stroke-width="0.65"/>
<line x1="747.99" x2="752.95" y1="577.25" y2="577.25" stroke="#2e2e2e" stroke-width="1.2"/>
<path d="M755.73 535.75V551M755.73 595V615.5" stroke="#6e6e6e" stroke-width="0.8" fill="none"/>
<rect x="753.25" y="551" width="4.96" height="44" fill="#0000FF" stroke="#333" stroke-width="0.65"/>
<line x1="753.25" x2="758.21" y1="568" y2="568" stroke="#2e2e2e" stroke-width="1.2"/>
<path d="M760.99 513V539.25M760.99 559.5V592.5" stroke="#6e6e6e" stroke-width="0.8" fill="none"/>
<rect x="758.51" y="539.25" width="4.96" height="20.25" fill="#FF0000" stroke="#333" stroke-width="0.65"/>
<line x1="758.51" x2="763.47" y1="547" y2="547" stroke="#2e2e2e" stroke-width="1.2"/>
<path d="M766.25 556.25V596M766.25 652V718.25" stroke="#6e6e6e" stroke-width="0.8" fill="none"/>
<rect x="763.77" y="596" width="4.96" height="56" fill="#A52A2A" stroke="#333" stroke-width="0.65"/>
<line x1="763.77" x2="768.73" y1="625.5" y2="625.5" stroke="#2e2e2e" stroke-width="1.2"/>
<path d="M782.05 694.25V735.75M782.05 771.75V843" stroke="#6e6e6e" stroke-width="0.8" fill="none"/>
<rect x="779.57" y="735.75" width="4.96" height="36" fill="#FFFF00" stroke="#333" stroke-width="0.65"/>
<line x1="779.57" x2="784.53" y1="753.5" y2="753.5" stroke="#2e2e2e" stroke-width="1.2"/>
<path d="M787.31 587.5V629.25M787.31 695V732.5" stroke="#6e6e6e" stroke-width="0.8" fill="none"/>
<rect x="784.83" y="629.25" width="4.96" height="65.75" fill="#00FF00" stroke="#333" stroke-width="0.65"/>
<line x1="784.83" x2="789.79" y1="666.25" y2="666.25" stroke="#2e2e2e" stroke-width="1.2"/>
<path d="M792.57 560V582.5M792.57 624.25V650.75" stroke="#6e6e6e" stroke-width="0.8" fill="none"/>
<rect x="790.09" y="582.5" width="4.96" height="41.75" fill="#6B8E23" stroke="#333" stroke-width="0.65"/>
<line x1="790.09" x2="795.05" y1="598.5" y2="598.5" stroke="#2e2e2e" stroke-width="1.2"/>
<path d="M797.83 549.25V572M797.83 590V619.5" stroke="#6e6e6e" stroke-width="0.8" fill="none"/>
<rect x="795.35" y="572" width="4.96" height="18" fill="#0000FF" stroke="#333" stroke-width="0.65"/>
<line x1="795.35" x2="800.31" y1="585" y2="585" stroke="#2e2e2e" stroke-width="1.2"/>
<path d="M803.09 546.25V562.25M803.09 594.5V612.5" stroke="#6e6e6e" stroke-width="0.8" fill="none"/>
<rect x="800.61" y="562.25" width="4.96" height="32.25" fill="#FF0000" stroke="#333" stroke-width="0.65"/>
<line x1="800.61" x2="805.57" y1="571.25" y2="571.25" stroke="#2e2e2e" stroke-width="1.2"/>
<path d="M808.35 575V594.75M808.35 653V721.25" stroke="#6e6e6e" stroke-width="0.8" fill="none"/>
<rect x="805.87" y="594.75" width="4.96" height="58.25" fill="#A52A2A" stroke="#333" stroke-width="0.65"/>
<line x1="805.87" x2="810.83" y1="625.5" y2="625.5" stroke="#2e2e2e" stroke-width="1.2"/>
<path d="M824.15 610.75V655.5M824.15 744.5V780.75" stroke="#6e6e6e" stroke-width="0.8" fill="none"/>
<rect x="821.67" y="655.5" width="4.96" height="89" fill="#FFFF00" stroke="#333" stroke-width="0.65"/>
<line x1="821.67" x2="826.63" y1="724" y2="724" stroke="#2e2e2e" stroke-width="1.2"/>
<path d="M829.41 595V640.5M829.41 693.75V723.75" stroke="#6e6e6e" stroke-width="0.8" fill="none"/>
<rect x="826.93" y="640.5" width="4.96" height="53.25" fill="#00FF00" stroke="#333" stroke-width="0.65"/>
<line x1="826.93" x2="831.89" y1="667" y2="667" stroke="#2e2e2e" stroke-width="1.2"/>
<path d="M834.67 567V591.5M834.67 620.25V637" stroke="#6e6e6e" stroke-width="0.8" fill="none"/>
<rect x="832.19" y="591.5" width="4.96" height="28.75" fill="#6B8E23" stroke="#333" stroke-width="0.65"/>
<line x1="832.19" x2="837.15" y1="606.5" y2="606.5" stroke="#2e2e2e" stroke-width="1.2"/>
<path d="M839.93 533.75V551.75M839.93 579.75V635" stroke="#6e6e6e" stroke-width="0.8" fill="none"/>
<rect x="837.45" y="551.75" width="4.96" height="28" fill="#0000FF" stroke="#333" stroke-width="0.65"/>
<line x1="837.45" x2="842.41" y1="560.75" y2="560.75" stroke="#2e2e2e" stroke-width="1.2"/>
<path d="M845.19 532V555.75M845.19 580.25V602.5" stroke="#6e6e6e" stroke-width="0.8" fill="none"/>
<rect x="842.71" y="555.75" width="4.96" height="24.5" fill="#FF0000" stroke="#333" stroke-width="0.65"/>
<line x1="842.71" x2="847.67" y1="567.5" y2="567.5" stroke="#2e2e2e" stroke-width="1.2"/>
<path d="M850.45 569.25V605M850.45 638.25V708.75" stroke="#6e6e6e" stroke-width="0.8" fill="none"/>
<rect x="847.97" y="605" width="4.96" height="33.25" fill="#A52A2A" stroke="#333" stroke-width="0.65"/>
<line x1="847.97" x2="852.93" y1="617.5" y2="617.5" stroke="#2e2e2e" stroke-width="1.2"/>
<path d="M866.25 707.5V760.25M866.25 802.25V871.25" stroke="#6e6e6e" stroke-width="0.8" fill="none"/>
<rect x="863.77" y="760.25" width="4.96" height="42" fill="#FFFF00" stroke="#333" stroke-width="0.65"/>
<line x1="863.77" x2="868.73" y1="787.25" y2="787.25" stroke="#2e2e2e" stroke-width="1.2"/>
<path d="M871.51 611.25V650.5M871.51 691V720" stroke="#6e6e6e" stroke-width="0.8" fill="none"/>
<rect x="869.03" y="650.5" width="4.96" height="40.5" fill="#00FF00" stroke="#333" stroke-width="0.65"/>
<line x1="869.03" x2="873.99" y1="671.75" y2="671.75" stroke="#2e2e2e" stroke-width="1.2"/>
<path d="M876.77 567.5V604.75M876.77 647.75V708" stroke="#6e6e6e" stroke-width="0.8" fill="none"/>
<rect x="874.29" y="604.75" width="4.96" height="43" fill="#6B8E23" stroke="#333" stroke-width="0.65"/>
<line x1="874.29" x2="879.25" y1="625.25" y2="625.25" stroke="#2e2e2e" stroke-width="1.2"/>
<path d="M882.03 529.25V545.25M882.03 585V624.25" stroke="#6e6e6e" stroke-width="0.8" fill="none"/>
<rect x="879.55" y="545.25" width="4.96" height="39.75" fill="#0000FF" stroke="#333" stroke-width="0.65"/>
<line x1="879.55" x2="884.51" y1="563.25" y2="563.25" stroke="#2e2e2e" stroke-width="1.2"/>
<path d="M887.29 548.75V574.5M887.29 608V635" stroke="#6e6e6e" stroke-width="0.8" fill="none"/>
<rect x="884.81" y="574.5" width="4.96" height="33.5" fill="#FF0000" stroke="#333" stroke-width="0.65"/>
<line x1="884.81" x2="889.77" y1="588.75" y2="588.75" stroke="#2e2e2e" stroke-width="1.2"/>
<path d="M892.55 595V630.25M892.55 672.25V713.25" stroke="#6e6e6e" stroke-width="0.8" fill="none"/>
<rect x="890.07" y="630.25" width="4.96" height="42" fill="#A52A2A" stroke="#333" stroke-width="0.65"/>
<line x1="890.07" x2="895.03" y1="657.5" y2="657.5" stroke="#2e2e2e" stroke-width="1.2"/>
<path d="M908.35 683.75V727M908.35 755.75V798" stroke="#6e6e6e" stroke-width="0.8" fill="none"/>
<rect x="905.87" y="727" width="4.96" height="28.75" fill="#FFFF00" stroke="#333" stroke-width="0.65"/>
<line x1="905.87" x2="910.83" y1="740.25" y2="740.25" stroke="#2e2e2e" stroke-width="1.2"/>
<path d="M913.61 612.5V640M913.61 695.5V751.25" stroke="#6e6e6e" stroke-width="0.8" fill="none"/>
<rect x="911.13" y="640" width="4.96" height="55.5" fill="#00FF00" stroke="#333" stroke-width="0.65"/>
<line x1="911.13" x2="916.09" y1="663.5" y2="663.5" stroke="#2e2e2e" stroke-width="1.2"/>
<path d="M918.87 555V597.25M918.87 658.25V681.75" stroke="#6e6e6e" stroke-width="0.8" fill="none"/>
<rect x="916.39" y="597.25" width="4.96" height="61" fill="#6B8E23" stroke="#333" stroke-width="0.65"/>
<line x1="916.39" x2="921.35" y1="636.25" y2="636.25" stroke="#2e2e2e" stroke-width="1.2"/>
<path d="M924.13 533.75V567.75M924.13 590.5V635.75" stroke="#6e6e6e" stroke-width="0.8" fill="none"/>
<rect x="921.65" y="567.75" width="4.96" height="22.75" fill="#0000FF" stroke="#333" stroke-width="0.65"/>
<line x1="921.65" x2="926.61" y1="574.5" y2="574.5" stroke="#2e2e2e" stroke-width="1.2"/>
<path d="M929.39 507.5V529.5M929.39 562.25V612.5" stroke="#6e6e6e" stroke-width="0.8" fill="none"/>
<rect x="926.91" y="529.5" width="4.96" height="32.75" fill="#FF0000" stroke="#333" stroke-width="0.65"/>
<line x1="926.91" x2="931.87" y1="552.5" y2="552.5" stroke="#2e2e2e" stroke-width="1.2"/>
<path d="M934.65 525.75V556.5M934.65 594V615.75" stroke="#6e6e6e" stroke-width="0.8" fill="none"/>
<rect x="932.17" y="556.5" width="4.96" height="37.5" fill="#A52A2A" stroke="#333" stroke-width="0.65"/>
<line x1="932.17" x2="937.13" y1="579.5" y2="579.5" stroke="#2e2e2e" stroke-width="1.2"/>
<circle cx="671.5" cy="659.25" r="1.45" fill="#111"/>
<rect x="559.5" y="488.25" width="387.5" height="420.35" fill="none" stroke="#cacaca" stroke-width="1.3"/>
<line x1="556.6" x2="559.2" y1="569.3" y2="569.3" stroke="#555" stroke-width="0.9"/>
<text transform="translate(554.1 572.76) scale(0.95 1)" font-size="9.6" font-weight="bold" text-anchor="end" fill="#111" stroke="#111" stroke-width="0.3">40</text>
<line x1="556.6" x2="559.2" y1="671.7" y2="671.7" stroke="#555" stroke-width="0.9"/>
<text transform="translate(554.1 675.16) scale(0.95 1)" font-size="9.6" font-weight="bold" text-anchor="end" fill="#111" stroke="#111" stroke-width="0.3">0</text>
<line x1="556.6" x2="559.2" y1="773.9" y2="773.9" stroke="#555" stroke-width="0.9"/>
<text transform="translate(554.1 777.36) scale(0.95 1)" font-size="9.6" font-weight="bold" text-anchor="end" fill="#111" stroke="#111" stroke-width="0.3">-40</text>
<line x1="556.6" x2="559.2" y1="876" y2="876" stroke="#555" stroke-width="0.9"/>
<text transform="translate(554.1 879.46) scale(0.95 1)" font-size="9.6" font-weight="bold" text-anchor="end" fill="#111" stroke="#111" stroke-width="0.3">-80</text>
<line x1="584.7" x2="584.7" y1="908.9" y2="911.5" stroke="#555" stroke-width="0.9"/>
<text transform="translate(591 914.2) rotate(-90) scale(0.95 1)" font-size="9.6" font-weight="bold" text-anchor="end" fill="#111" stroke="#111" stroke-width="0.3">2002</text>
<line x1="626.8" x2="626.8" y1="908.9" y2="911.5" stroke="#555" stroke-width="0.9"/>
<text transform="translate(633.1 914.2) rotate(-90) scale(0.95 1)" font-size="9.6" font-weight="bold" text-anchor="end" fill="#111" stroke="#111" stroke-width="0.3">2003</text>
<line x1="668.9" x2="668.9" y1="908.9" y2="911.5" stroke="#555" stroke-width="0.9"/>
<text transform="translate(675.2 914.2) rotate(-90) scale(0.95 1)" font-size="9.6" font-weight="bold" text-anchor="end" fill="#111" stroke="#111" stroke-width="0.3">2004</text>
<line x1="711" x2="711" y1="908.9" y2="911.5" stroke="#555" stroke-width="0.9"/>
<text transform="translate(717.3 914.2) rotate(-90) scale(0.95 1)" font-size="9.6" font-weight="bold" text-anchor="end" fill="#111" stroke="#111" stroke-width="0.3">2005</text>
<line x1="753.1" x2="753.1" y1="908.9" y2="911.5" stroke="#555" stroke-width="0.9"/>
<text transform="translate(759.4 914.2) rotate(-90) scale(0.95 1)" font-size="9.6" font-weight="bold" text-anchor="end" fill="#111" stroke="#111" stroke-width="0.3">2006</text>
<line x1="795.2" x2="795.2" y1="908.9" y2="911.5" stroke="#555" stroke-width="0.9"/>
<text transform="translate(801.5 914.2) rotate(-90) scale(0.95 1)" font-size="9.6" font-weight="bold" text-anchor="end" fill="#111" stroke="#111" stroke-width="0.3">2007</text>
<line x1="837.3" x2="837.3" y1="908.9" y2="911.5" stroke="#555" stroke-width="0.9"/>
<text transform="translate(843.6 914.2) rotate(-90) scale(0.95 1)" font-size="9.6" font-weight="bold" text-anchor="end" fill="#111" stroke="#111" stroke-width="0.3">2008</text>
<line x1="879.4" x2="879.4" y1="908.9" y2="911.5" stroke="#555" stroke-width="0.9"/>
<text transform="translate(885.7 914.2) rotate(-90) scale(0.95 1)" font-size="9.6" font-weight="bold" text-anchor="end" fill="#111" stroke="#111" stroke-width="0.3">2009</text>
<line x1="921.5" x2="921.5" y1="908.9" y2="911.5" stroke="#555" stroke-width="0.9"/>
<text transform="translate(927.8 914.2) rotate(-90) scale(0.95 1)" font-size="9.6" font-weight="bold" text-anchor="end" fill="#111" stroke="#111" stroke-width="0.3">2010</text>
<text x="753.55" y="947" font-size="10.7" text-anchor="middle" fill="#222" letter-spacing="0.6">Year</text>
<text transform="translate(537.2 698.42) rotate(-90)" font-size="10.4" text-anchor="middle" fill="#222" letter-spacing="0.3">RRP</text>
<text x="958.4" y="654.85" font-size="11" font-weight="bold" fill="#111">Month</text>
<rect x="958.2" y="658.75" width="15.6" height="15.33" fill="#fff" stroke="#dcdcdc" stroke-width="0.7"/>
<path d="M966 660.05V662.42M966 670.42V672.75" stroke="#3a3a3a" stroke-width="1"/>
<rect x="960.1" y="662.47" width="11.8" height="7.9" fill="#FFFF00" stroke="#444" stroke-width="0.55"/>
<line x1="960.1" x2="971.9" y1="666.42" y2="666.42" stroke="#3a3a3a" stroke-width="1"/>
<text x="975.3" y="669.62" font-size="9.6" fill="#111" stroke="#111" stroke-width="0.15">April</text>
<rect x="958.2" y="674.08" width="15.6" height="15.33" fill="#fff" stroke="#dcdcdc" stroke-width="0.7"/>
<path d="M966 675.38V677.75M966 685.75V688.08" stroke="#3a3a3a" stroke-width="1"/>
<rect x="960.1" y="677.8" width="11.8" height="7.9" fill="#00FF00" stroke="#444" stroke-width="0.55"/>
<line x1="960.1" x2="971.9" y1="681.75" y2="681.75" stroke="#3a3a3a" stroke-width="1"/>
<text x="975.3" y="684.95" font-size="9.6" fill="#111" stroke="#111" stroke-width="0.15">May</text>
<rect x="958.2" y="689.41" width="15.6" height="15.33" fill="#fff" stroke="#dcdcdc" stroke-width="0.7"/>
<path d="M966 690.71V693.08M966 701.08V703.41" stroke="#3a3a3a" stroke-width="1"/>
<rect x="960.1" y="693.13" width="11.8" height="7.9" fill="#6B8E23" stroke="#444" stroke-width="0.55"/>
<line x1="960.1" x2="971.9" y1="697.08" y2="697.08" stroke="#3a3a3a" stroke-width="1"/>
<text x="975.3" y="700.28" font-size="9.6" fill="#111" stroke="#111" stroke-width="0.15">June</text>
<rect x="958.2" y="704.74" width="15.6" height="15.33" fill="#fff" stroke="#dcdcdc" stroke-width="0.7"/>
<path d="M966 706.04V708.41M966 716.41V718.74" stroke="#3a3a3a" stroke-width="1"/>
<rect x="960.1" y="708.46" width="11.8" height="7.9" fill="#0000FF" stroke="#444" stroke-width="0.55"/>
<line x1="960.1" x2="971.9" y1="712.41" y2="712.41" stroke="#3a3a3a" stroke-width="1"/>
<text x="975.3" y="715.61" font-size="9.6" fill="#111" stroke="#111" stroke-width="0.15">July</text>
<rect x="958.2" y="720.07" width="15.6" height="15.33" fill="#fff" stroke="#dcdcdc" stroke-width="0.7"/>
<path d="M966 721.37V723.74M966 731.74V734.07" stroke="#3a3a3a" stroke-width="1"/>
<rect x="960.1" y="723.79" width="11.8" height="7.9" fill="#FF0000" stroke="#444" stroke-width="0.55"/>
<line x1="960.1" x2="971.9" y1="727.74" y2="727.74" stroke="#3a3a3a" stroke-width="1"/>
<text x="975.3" y="730.94" font-size="9.6" fill="#111" stroke="#111" stroke-width="0.15">August</text>
<rect x="958.2" y="735.4" width="15.6" height="15.33" fill="#fff" stroke="#dcdcdc" stroke-width="0.7"/>
<path d="M966 736.7V739.07M966 747.07V749.4" stroke="#3a3a3a" stroke-width="1"/>
<rect x="960.1" y="739.12" width="11.8" height="7.9" fill="#A52A2A" stroke="#444" stroke-width="0.55"/>
<line x1="960.1" x2="971.9" y1="743.07" y2="743.07" stroke="#3a3a3a" stroke-width="1"/>
<text x="975.3" y="746.27" font-size="9.6" fill="#111" stroke="#111" stroke-width="0.15">September</text>
</g>
</svg>
</body></html>
